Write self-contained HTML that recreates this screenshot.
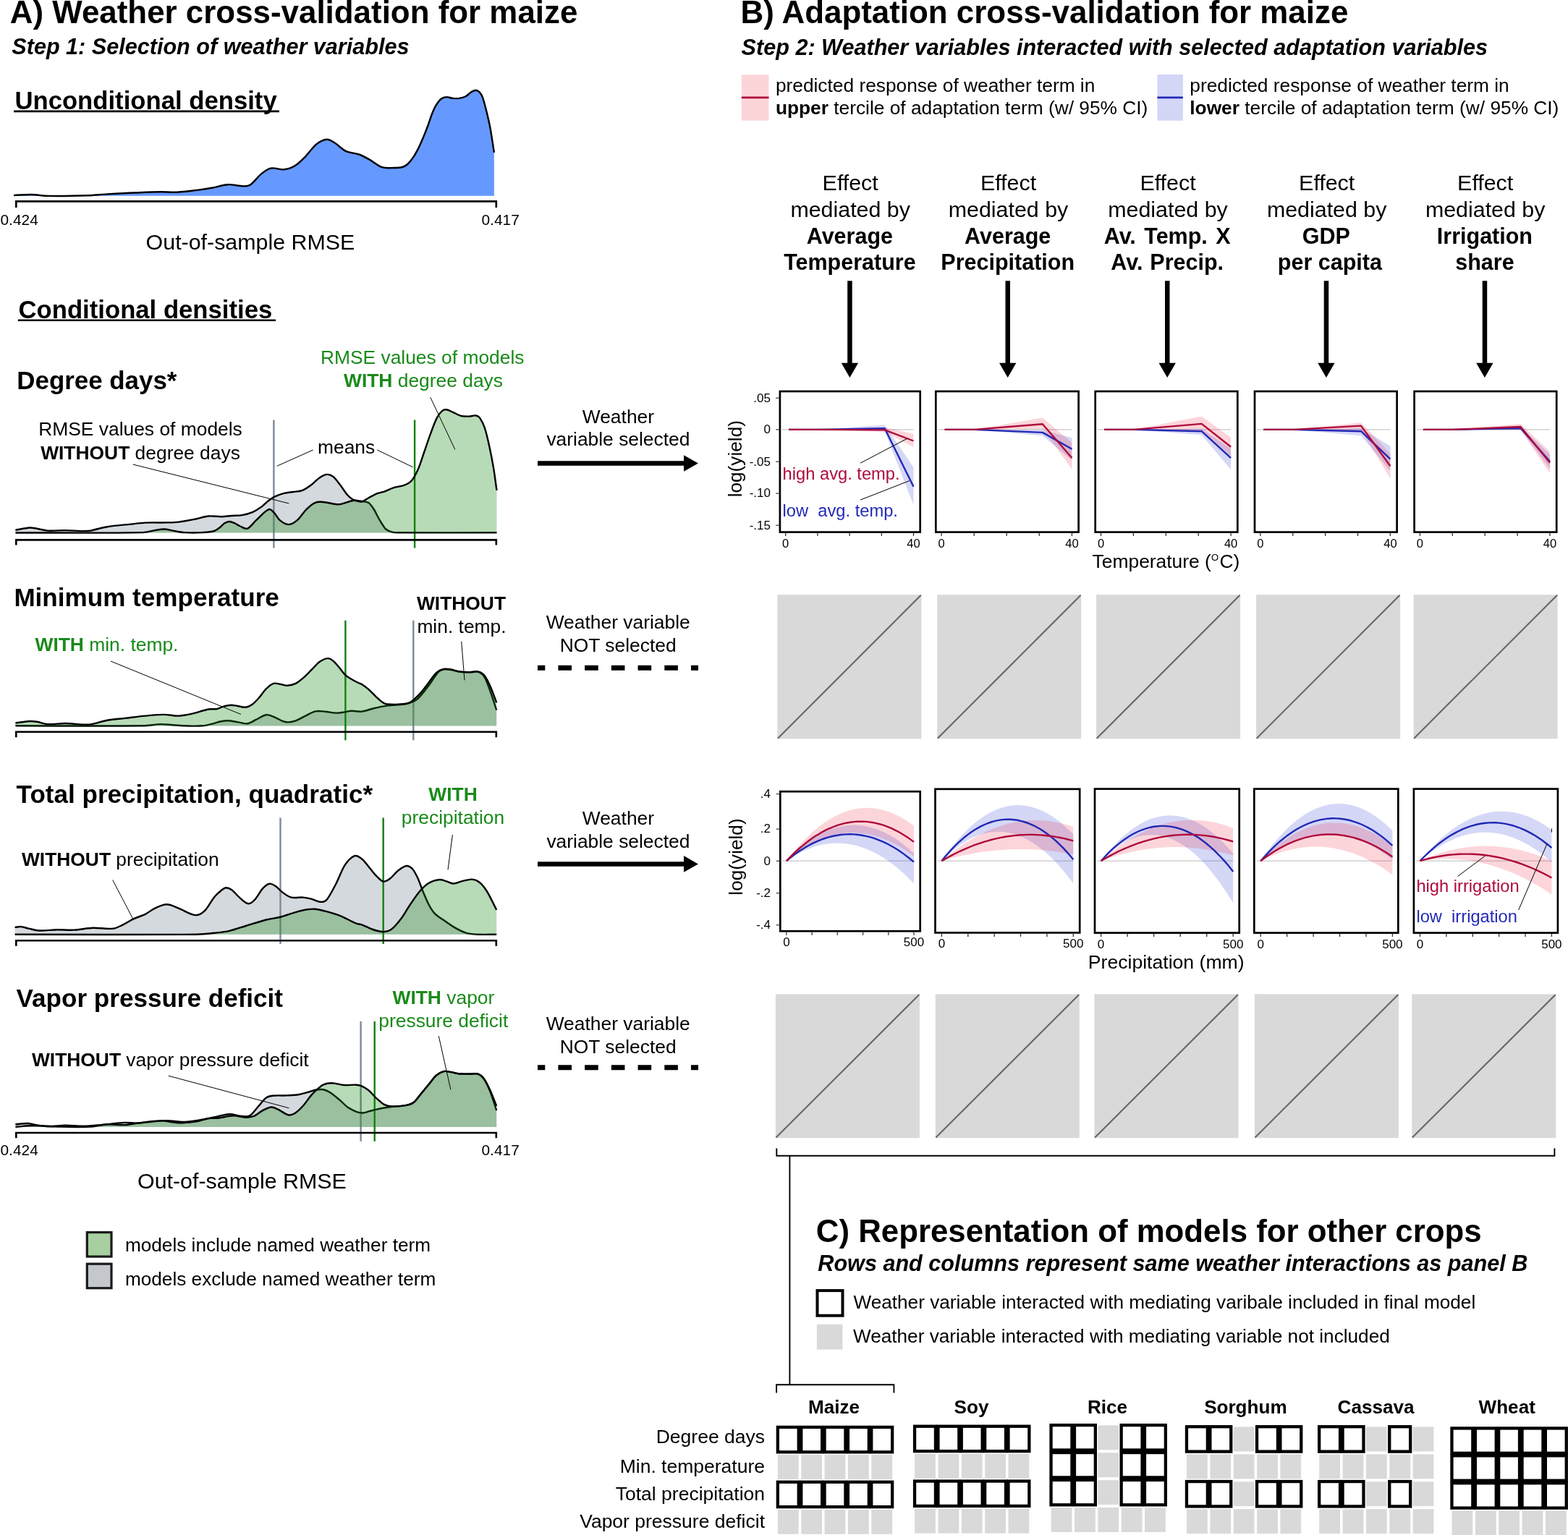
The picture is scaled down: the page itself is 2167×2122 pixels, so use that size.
<!DOCTYPE html>
<html><head><meta charset="utf-8"><title>Weather and adaptation cross-validation for maize</title>
<style>
html,body{margin:0;padding:0;background:#fff;}
svg{display:block;}
text{font-family:'Liberation Sans', Arial, Helvetica, sans-serif;}
</style></head>
<body>
<svg width="2167" height="2122" viewBox="0 0 2167 2122">
<defs></defs>
<rect x="0" y="0" width="2167" height="2122" fill="#fff"/>
<text x="13.8" y="32.2" font-size="43.9" font-weight="bold">A) Weather cross-validation for maize</text>
<text x="16.3" y="75.3" font-size="30.6" font-weight="bold" font-style="italic">Step 1: Selection of weather variables</text>
<text x="20.4" y="150.6" font-size="34.7" font-weight="bold">Unconditional density</text>
<line x1="19.1" y1="153.9" x2="385.9" y2="153.9" stroke="#000" stroke-width="2.6"/>
<path d="M19.1,270 C27.1,269.7 35.2,268.9 43.2,269 C51.4,269.2 59.7,270.8 67.9,270.9 C85.6,271.2 103.3,270.8 121,270.2 C130,269.9 139,268.9 148,268.4 C160.3,267.7 172.7,267 185,266.5 C197.4,266 209.8,265.4 222.2,265.2 C229.6,265.1 237,266.1 244.4,265.7 C254.3,265.2 264.2,263.8 274.1,262.6 C280.3,261.8 286.4,260.9 292.6,259.8 C300,258.5 307.4,255.6 314.8,255.2 C322.2,254.8 329.6,257.4 337,257.4 C340.1,257.4 343.2,257.4 346.3,255.2 C351.2,251.7 356.2,244.4 361.1,240.4 C365.4,236.9 369.8,233.4 374.1,232.6 C380.3,231.4 386.4,234.9 392.6,234.3 C397.5,233.8 402.5,232.3 407.4,229.3 C412.3,226.3 417.3,221.3 422.2,216.3 C427.1,211.3 432.1,203.5 437,199.6 C442,195.7 446.9,193.1 451.9,192.8 C455.6,192.5 459.3,195.5 463,197.8 C467.9,200.9 472.9,206.6 477.8,208.9 C484,211.8 490.1,211.3 496.3,213.5 C501.2,215.3 506.2,218.1 511.1,220.9 C516.7,224 522.2,229.2 527.8,231.1 C533.3,232.9 538.9,232 544.4,232 C548.3,232 552.2,232 556.1,231 C558.5,230.4 560.8,229.2 563.2,227 C565.9,224.5 568.6,221.1 571.3,217.1 C573.7,213.6 576,209.3 578.4,204.6 C580.8,199.8 583.1,194.3 585.5,188.6 C587.6,183.6 589.7,178.2 591.8,172.5 C593.6,167.7 595.3,161.7 597.1,157.3 C598.9,152.8 600.7,148.7 602.5,145.7 C604.9,141.8 607.2,138.7 609.6,136.8 C612,134.9 614.4,134.2 616.8,134.1 C619.8,133.9 622.7,135.6 625.7,135.9 C628.7,136.2 631.6,136.3 634.6,135.9 C637.6,135.4 640.6,134.8 643.6,133.2 C646.3,131.8 648.9,128.6 651.6,127 C653.7,125.8 655.8,124.7 657.9,124.7 C659.4,124.7 660.8,125.5 662.3,127 C663.8,128.6 665.3,130.1 666.8,134.1 C668.6,138.8 670.3,145.8 672.1,152.9 C673.9,160.1 675.7,167.3 677.5,177 C679.3,186.7 681.1,199.6 682.9,210.9 L682.9,270.8 L19.1,270.8 Z" fill="#6699ff"/>
<path d="M19.1,270 C27.1,269.7 35.2,268.9 43.2,269 C51.4,269.2 59.7,270.8 67.9,270.9 C85.6,271.2 103.3,270.8 121,270.2 C130,269.9 139,268.9 148,268.4 C160.3,267.7 172.7,267 185,266.5 C197.4,266 209.8,265.4 222.2,265.2 C229.6,265.1 237,266.1 244.4,265.7 C254.3,265.2 264.2,263.8 274.1,262.6 C280.3,261.8 286.4,260.9 292.6,259.8 C300,258.5 307.4,255.6 314.8,255.2 C322.2,254.8 329.6,257.4 337,257.4 C340.1,257.4 343.2,257.4 346.3,255.2 C351.2,251.7 356.2,244.4 361.1,240.4 C365.4,236.9 369.8,233.4 374.1,232.6 C380.3,231.4 386.4,234.9 392.6,234.3 C397.5,233.8 402.5,232.3 407.4,229.3 C412.3,226.3 417.3,221.3 422.2,216.3 C427.1,211.3 432.1,203.5 437,199.6 C442,195.7 446.9,193.1 451.9,192.8 C455.6,192.5 459.3,195.5 463,197.8 C467.9,200.9 472.9,206.6 477.8,208.9 C484,211.8 490.1,211.3 496.3,213.5 C501.2,215.3 506.2,218.1 511.1,220.9 C516.7,224 522.2,229.2 527.8,231.1 C533.3,232.9 538.9,232 544.4,232 C548.3,232 552.2,232 556.1,231 C558.5,230.4 560.8,229.2 563.2,227 C565.9,224.5 568.6,221.1 571.3,217.1 C573.7,213.6 576,209.3 578.4,204.6 C580.8,199.8 583.1,194.3 585.5,188.6 C587.6,183.6 589.7,178.2 591.8,172.5 C593.6,167.7 595.3,161.7 597.1,157.3 C598.9,152.8 600.7,148.7 602.5,145.7 C604.9,141.8 607.2,138.7 609.6,136.8 C612,134.9 614.4,134.2 616.8,134.1 C619.8,133.9 622.7,135.6 625.7,135.9 C628.7,136.2 631.6,136.3 634.6,135.9 C637.6,135.4 640.6,134.8 643.6,133.2 C646.3,131.8 648.9,128.6 651.6,127 C653.7,125.8 655.8,124.7 657.9,124.7 C659.4,124.7 660.8,125.5 662.3,127 C663.8,128.6 665.3,130.1 666.8,134.1 C668.6,138.8 670.3,145.8 672.1,152.9 C673.9,160.1 675.7,167.3 677.5,177 C679.3,186.7 681.1,199.6 682.9,210.9" fill="none" stroke="#000" stroke-width="2.4"/>
<path d="M22.3,287 L22.3,278.4 L685.8,278.4 L685.8,287" fill="none" stroke="#000" stroke-width="2.6"/>
<text x="0.5" y="310.5" font-size="20.9">0.424</text>
<text x="665.5" y="310.5" font-size="20.9">0.417</text>
<text x="201.6" y="344.6" font-size="30.4">Out-of-sample RMSE</text>
<text x="25.5" y="439.5" font-size="34.7" font-weight="bold">Conditional densities</text>
<line x1="24.8" y1="442.8" x2="381" y2="442.8" stroke="#000" stroke-width="2.6"/>
<text x="23.3" y="537.8" font-size="34.9" font-weight="bold">Degree days*</text>
<text x="583.7" y="503.4" font-size="26.4" text-anchor="middle" fill="#1a8a1a">RMSE values of models</text>
<text x="585" y="535.3" font-size="26.4" text-anchor="middle" fill="#1a8a1a"><tspan font-weight="bold">WITH</tspan> degree days</text>
<text x="194" y="602.2" font-size="26.4" text-anchor="middle">RMSE values of models</text>
<text x="194" y="634.8" font-size="26.4" text-anchor="middle"><tspan font-weight="bold">WITHOUT</tspan> degree days</text>
<text x="439" y="627.2" font-size="26.4">means</text>
<path d="M21.4,732.8 C28,731.7 34.6,729.9 41.2,729.5 C44.5,729.3 47.7,730.3 51,730.8 C55.9,731.6 60.9,733.3 65.8,733.6 C74,734.1 82.3,733 90.5,733.1 C98.7,733.2 107,734 115.2,734.1 C118.5,734.1 121.8,734.2 125.1,733.6 C132.8,732.2 140.4,729.4 148.1,728.2 C159.1,726.4 170.1,725.8 181.1,724.6 C187.7,723.9 194.2,722.9 200.8,722.6 C210.7,722.2 220.6,722.6 230.5,722.4 C236,722.3 241.4,722.3 246.9,721.6 C255.1,720.6 263.4,718.8 271.6,717.2 C277.1,716.1 282.6,714 288.1,713.5 C294.1,713 300.2,714.3 306.2,714.2 C310.8,714.1 315.4,713.3 320,713 C324.9,712.6 329.7,713 334.6,712.1 C339.5,711.2 344.5,709.9 349.4,707.8 C353.5,706 357.6,703.4 361.7,700.4 C365,698 368.3,694.3 371.6,691.7 C374.1,689.8 376.5,688 379,686.8 C383.5,684.7 388.1,683.1 392.6,681.9 C396.7,680.8 400.8,680.6 404.9,680 C409,679.4 413.2,679.7 417.3,678.1 C421.4,676.6 425.5,673.7 429.6,670.7 C433.7,667.7 437.9,662.9 442,660.2 C445.3,658 448.6,656.1 451.9,655.9 C454.8,655.7 457.6,656.7 460.5,659 C463.8,661.6 467.1,666.5 470.4,670.7 C473.7,674.9 476.9,680.6 480.2,684.3 C482.7,687.2 485.2,689.2 487.7,690.5 C490.2,691.8 492.6,691.8 495.1,692.3 C497.1,692.7 499.2,692.6 501.2,693 C504.1,693.6 507,693.2 509.9,695.4 C512.4,697.2 514.8,701.2 517.3,705 C518.9,707.4 520.4,711.2 522,714 C523.7,717.2 525.5,720.3 527.2,723 C529.2,726.1 531.2,729.8 533.2,731.5 C536.2,734 539.1,734.9 542.1,735.6 C545.8,736.5 549.4,736.3 553.1,736.3 C597.6,736.5 642,736.3 686.5,736.3 L686.5,736.4 L21.4,736.4 Z" fill="#708090" fill-opacity="0.3"/>
<line x1="378.4" y1="580.5" x2="378.4" y2="757.5" stroke="#7d8a99" stroke-width="2.4"/>
<line x1="573.1" y1="580.5" x2="573.1" y2="757.5" stroke="#0f800f" stroke-width="2.4"/>
<path d="M21.4,732.8 C28,731.7 34.6,729.9 41.2,729.5 C44.5,729.3 47.7,730.3 51,730.8 C55.9,731.6 60.9,733.3 65.8,733.6 C74,734.1 82.3,733 90.5,733.1 C98.7,733.2 107,734 115.2,734.1 C118.5,734.1 121.8,734.2 125.1,733.6 C132.8,732.2 140.4,729.4 148.1,728.2 C159.1,726.4 170.1,725.8 181.1,724.6 C187.7,723.9 194.2,722.9 200.8,722.6 C210.7,722.2 220.6,722.6 230.5,722.4 C236,722.3 241.4,722.3 246.9,721.6 C255.1,720.6 263.4,718.8 271.6,717.2 C277.1,716.1 282.6,714 288.1,713.5 C294.1,713 300.2,714.3 306.2,714.2 C310.8,714.1 315.4,713.3 320,713 C324.9,712.6 329.7,713 334.6,712.1 C339.5,711.2 344.5,709.9 349.4,707.8 C353.5,706 357.6,703.4 361.7,700.4 C365,698 368.3,694.3 371.6,691.7 C374.1,689.8 376.5,688 379,686.8 C383.5,684.7 388.1,683.1 392.6,681.9 C396.7,680.8 400.8,680.6 404.9,680 C409,679.4 413.2,679.7 417.3,678.1 C421.4,676.6 425.5,673.7 429.6,670.7 C433.7,667.7 437.9,662.9 442,660.2 C445.3,658 448.6,656.1 451.9,655.9 C454.8,655.7 457.6,656.7 460.5,659 C463.8,661.6 467.1,666.5 470.4,670.7 C473.7,674.9 476.9,680.6 480.2,684.3 C482.7,687.2 485.2,689.2 487.7,690.5 C490.2,691.8 492.6,691.8 495.1,692.3 C497.1,692.7 499.2,692.6 501.2,693 C504.1,693.6 507,693.2 509.9,695.4 C512.4,697.2 514.8,701.2 517.3,705 C518.9,707.4 520.4,711.2 522,714 C523.7,717.2 525.5,720.3 527.2,723 C529.2,726.1 531.2,729.8 533.2,731.5 C536.2,734 539.1,734.9 542.1,735.6 C545.8,736.5 549.4,736.3 553.1,736.3 C597.6,736.5 642,736.3 686.5,736.3" fill="none" stroke="#000" stroke-width="2.4"/>
<path d="M21.4,736.5 C80.1,736.4 138.8,737.1 197.5,736.1 C203,736 208.5,734 214,733.1 C218.4,732.4 222.8,731.4 227.2,731.5 C231,731.6 234.9,733 238.7,733.6 C244.2,734.5 249.6,735.8 255.1,736.1 C263.3,736.6 271.6,736.5 279.8,736.1 C285.2,735.8 290.6,735.6 296,734 C298.7,733.2 301.3,731 304,729 C306,727.5 308,724.7 310,723.5 C312.3,722.1 314.7,721 317,721 C319.7,721 322.3,722.4 325,723.5 C327,724.4 329,726.2 331,727 C334.7,728.5 338.3,731.9 342,730.6 C346.1,729.2 350.2,722.6 354.3,718.9 C360.1,713.7 365.8,706.4 371.6,704.1 C374.1,703.1 376.5,706.5 379,709 C381.5,711.5 383.9,716.9 386.4,718.9 C390.5,722.3 394.7,725.1 398.8,725.1 C402.9,725.1 407,722.4 411.1,718.9 C415.2,715.4 419.4,708.1 423.5,704.1 C427.6,700.1 431.7,696.4 435.8,694.8 C439.9,693.1 444,693.9 448.1,694.2 C454.7,694.7 461.3,697.3 467.9,697.3 C472,697.3 476.1,695.3 480.2,694.2 C483.1,693.4 486,691.8 488.9,691.7 C492.6,691.6 496.3,694.3 500,693.6 C503.3,693 506.6,689.7 509.9,688 C514,685.8 518.1,683.5 522.2,681.9 C525.1,680.7 528.1,680.6 531,679.6 C535.4,678 539.9,675.5 544.3,674.1 C548.7,672.7 553.1,672.5 557.5,671.1 C560.4,670.1 563.4,669.1 566.3,666.9 C568.1,665.5 570,663.3 571.8,660.3 C574,656.7 576.3,652.6 578.5,647.1 C581.1,640.8 583.6,632.4 586.2,625 C589.1,616.6 592.1,607.5 595,599.6 C597.9,591.7 600.9,583.3 603.8,577.6 C606.4,572.6 608.9,569.8 611.5,567.6 C613.4,566 615.2,566 617.1,566.3 C620,566.8 623,568.6 625.9,569.9 C629.6,571.5 633.2,573.8 636.9,574.8 C640.6,575.8 644.2,575.7 647.9,575.6 C651.2,575.6 654.6,574 657.9,574.5 C659.7,574.8 661.6,575.5 663.4,578.1 C665.6,581.3 667.8,585.2 670,591.9 C672.2,598.6 674.4,608.4 676.6,618.4 C678.4,626.8 680.3,636.1 682.1,647.1 C683.6,655.9 685,667.6 686.5,677.9 L686.5,736.4 L21.4,736.4 Z" fill="#148711" fill-opacity="0.3"/>
<path d="M21.4,736.5 C80.1,736.4 138.8,737.1 197.5,736.1 C203,736 208.5,734 214,733.1 C218.4,732.4 222.8,731.4 227.2,731.5 C231,731.6 234.9,733 238.7,733.6 C244.2,734.5 249.6,735.8 255.1,736.1 C263.3,736.6 271.6,736.5 279.8,736.1 C285.2,735.8 290.6,735.6 296,734 C298.7,733.2 301.3,731 304,729 C306,727.5 308,724.7 310,723.5 C312.3,722.1 314.7,721 317,721 C319.7,721 322.3,722.4 325,723.5 C327,724.4 329,726.2 331,727 C334.7,728.5 338.3,731.9 342,730.6 C346.1,729.2 350.2,722.6 354.3,718.9 C360.1,713.7 365.8,706.4 371.6,704.1 C374.1,703.1 376.5,706.5 379,709 C381.5,711.5 383.9,716.9 386.4,718.9 C390.5,722.3 394.7,725.1 398.8,725.1 C402.9,725.1 407,722.4 411.1,718.9 C415.2,715.4 419.4,708.1 423.5,704.1 C427.6,700.1 431.7,696.4 435.8,694.8 C439.9,693.1 444,693.9 448.1,694.2 C454.7,694.7 461.3,697.3 467.9,697.3 C472,697.3 476.1,695.3 480.2,694.2 C483.1,693.4 486,691.8 488.9,691.7 C492.6,691.6 496.3,694.3 500,693.6 C503.3,693 506.6,689.7 509.9,688 C514,685.8 518.1,683.5 522.2,681.9 C525.1,680.7 528.1,680.6 531,679.6 C535.4,678 539.9,675.5 544.3,674.1 C548.7,672.7 553.1,672.5 557.5,671.1 C560.4,670.1 563.4,669.1 566.3,666.9 C568.1,665.5 570,663.3 571.8,660.3 C574,656.7 576.3,652.6 578.5,647.1 C581.1,640.8 583.6,632.4 586.2,625 C589.1,616.6 592.1,607.5 595,599.6 C597.9,591.7 600.9,583.3 603.8,577.6 C606.4,572.6 608.9,569.8 611.5,567.6 C613.4,566 615.2,566 617.1,566.3 C620,566.8 623,568.6 625.9,569.9 C629.6,571.5 633.2,573.8 636.9,574.8 C640.6,575.8 644.2,575.7 647.9,575.6 C651.2,575.6 654.6,574 657.9,574.5 C659.7,574.8 661.6,575.5 663.4,578.1 C665.6,581.3 667.8,585.2 670,591.9 C672.2,598.6 674.4,608.4 676.6,618.4 C678.4,626.8 680.3,636.1 682.1,647.1 C683.6,655.9 685,667.6 686.5,677.9" fill="none" stroke="#000" stroke-width="2.4"/>
<path d="M22.3,753.5 L22.3,746.4 L685.8,746.4 L685.8,753.5" fill="none" stroke="#000" stroke-width="2.6"/>
<line x1="183.8" y1="642" x2="399.4" y2="696" stroke="#000" stroke-width="1"/>
<line x1="382.8" y1="644.3" x2="432.6" y2="622" stroke="#000" stroke-width="1"/>
<line x1="521.3" y1="622" x2="570.6" y2="645.8" stroke="#000" stroke-width="1"/>
<line x1="594.8" y1="549.3" x2="628.8" y2="621.3" stroke="#000" stroke-width="1"/>
<text x="19.4" y="838" font-size="35.1" font-weight="bold">Minimum temperature</text>
<text x="637.5" y="842.8" font-size="26.4" font-weight="bold" text-anchor="middle">WITHOUT</text>
<text x="638" y="874.8" font-size="26.4" text-anchor="middle">min. temp.</text>
<text x="48.5" y="900.3" font-size="26.4" fill="#1a8a1a"><tspan font-weight="bold">WITH</tspan> min. temp.</text>
<path d="M21.4,1003.3 C80.1,1003.3 138.8,1003.9 197.5,1003.3 C205.7,1003.2 214,1001.3 222.2,1001.1 C227.7,1001 233.2,1001.9 238.7,1002.3 C244.2,1002.7 249.6,1003.2 255.1,1003.3 C263.3,1003.5 271.6,1004 279.8,1003.3 C285.3,1002.8 290.8,1001.1 296.3,999.8 C298.9,999.2 301.4,998 304,997.5 C307.6,996.8 311.1,996.1 314.7,996.2 C319.2,996.3 323.8,997.4 328.3,998.1 C332.8,998.8 337.4,1000.8 341.9,1000.3 C345.7,999.9 349.4,997 353.2,995.2 C358.1,992.9 363,988.9 367.9,988.2 C371.7,987.6 375.4,989.8 379.2,991.3 C383,992.8 386.7,995.5 390.5,996.9 C393.2,997.9 395.8,998.5 398.5,998.4 C401.9,998.3 405.2,997.7 408.6,996.4 C413.1,994.7 417.7,991.8 422.2,989.6 C426.7,987.4 431.3,984.4 435.8,983.4 C440.3,982.4 444.9,983.3 449.4,983.7 C454.3,984.1 459.2,985.4 464.1,985.6 C467.5,985.8 470.9,985.2 474.3,984.8 C478.1,984.3 481.8,983 485.6,982.8 C490.4,982.6 495.2,984.1 500,983.6 C505.1,983 510.3,980.7 515.4,979.5 C522.3,977.9 529.1,976.4 536,975.4 C542.9,974.4 549.7,974.6 556.6,973.8 C559.7,973.4 562.7,972.9 565.8,971.8 C569.6,970.4 573.4,969.5 577.2,966.1 C582.3,961.5 587.5,954.1 592.6,947.6 C597.7,941.1 602.9,930.6 608,927 C613.2,923.4 618.3,925.7 623.5,926 C626.9,926.2 630.3,928 633.7,928.5 C638.9,929.2 644,929.4 649.2,929.5 C653.3,929.6 657.4,927.7 661.5,929.1 C664.3,930 667,931.6 669.8,936.3 C672.5,940.9 675.3,949.3 678,956.9 C680.7,964.5 683.5,973.4 686.2,981.6 L686.2,1003.4 L21.4,1003.4 Z" fill="#708090" fill-opacity="0.3"/>
<line x1="477.4" y1="857.8" x2="477.4" y2="1023.3" stroke="#0f800f" stroke-width="2.4"/>
<line x1="571.3" y1="857.8" x2="571.3" y2="1023.3" stroke="#7d8a99" stroke-width="2.4"/>
<path d="M21.4,1003.3 C80.1,1003.3 138.8,1003.9 197.5,1003.3 C205.7,1003.2 214,1001.3 222.2,1001.1 C227.7,1001 233.2,1001.9 238.7,1002.3 C244.2,1002.7 249.6,1003.2 255.1,1003.3 C263.3,1003.5 271.6,1004 279.8,1003.3 C285.3,1002.8 290.8,1001.1 296.3,999.8 C298.9,999.2 301.4,998 304,997.5 C307.6,996.8 311.1,996.1 314.7,996.2 C319.2,996.3 323.8,997.4 328.3,998.1 C332.8,998.8 337.4,1000.8 341.9,1000.3 C345.7,999.9 349.4,997 353.2,995.2 C358.1,992.9 363,988.9 367.9,988.2 C371.7,987.6 375.4,989.8 379.2,991.3 C383,992.8 386.7,995.5 390.5,996.9 C393.2,997.9 395.8,998.5 398.5,998.4 C401.9,998.3 405.2,997.7 408.6,996.4 C413.1,994.7 417.7,991.8 422.2,989.6 C426.7,987.4 431.3,984.4 435.8,983.4 C440.3,982.4 444.9,983.3 449.4,983.7 C454.3,984.1 459.2,985.4 464.1,985.6 C467.5,985.8 470.9,985.2 474.3,984.8 C478.1,984.3 481.8,983 485.6,982.8 C490.4,982.6 495.2,984.1 500,983.6 C505.1,983 510.3,980.7 515.4,979.5 C522.3,977.9 529.1,976.4 536,975.4 C542.9,974.4 549.7,974.6 556.6,973.8 C559.7,973.4 562.7,972.9 565.8,971.8 C569.6,970.4 573.4,969.5 577.2,966.1 C582.3,961.5 587.5,954.1 592.6,947.6 C597.7,941.1 602.9,930.6 608,927 C613.2,923.4 618.3,925.7 623.5,926 C626.9,926.2 630.3,928 633.7,928.5 C638.9,929.2 644,929.4 649.2,929.5 C653.3,929.6 657.4,927.7 661.5,929.1 C664.3,930 667,931.6 669.8,936.3 C672.5,940.9 675.3,949.3 678,956.9 C680.7,964.5 683.5,973.4 686.2,981.6" fill="none" stroke="#000" stroke-width="2.4"/>
<path d="M21.4,999.5 C28,998.7 34.6,997.4 41.2,997 C44.5,996.8 47.7,997.3 51,997.8 C55.9,998.6 60.9,1000.8 65.8,1001.1 C74,1001.6 82.3,999.9 90.5,1000 C98.7,1000.1 107,1001.3 115.2,1001.6 C119,1001.7 122.9,1001.8 126.7,1001.1 C133.8,999.8 141,997.1 148.1,995.8 C156.3,994.3 164.6,993.9 172.8,992.9 C182.1,991.8 191.5,990.5 200.8,989.6 C209.6,988.8 218.4,987.9 227.2,987.9 C233.8,987.9 240.3,989.9 246.9,989.6 C253.5,989.3 260.1,987.8 266.7,986.3 C273.8,984.7 281,981.8 288.1,980.5 C292.1,979.7 296,980.7 300,980 C303,979.4 306.1,977.4 309.1,976.6 C312.5,975.7 315.8,974.8 319.2,974.7 C322.2,974.6 325.3,975.6 328.3,976 C332.1,976.6 335.8,978.1 339.6,977.7 C342.6,977.4 345.7,975.9 348.7,973.7 C352.1,971.2 355.4,967.4 358.8,963.6 C361.8,960.2 364.9,955.1 367.9,952.2 C371.3,948.9 374.7,945.9 378.1,944.9 C381.5,943.9 384.9,945.5 388.3,946 C391.3,946.4 394.3,947.9 397.3,947.7 C401.1,947.5 404.8,946.8 408.6,944.9 C412.4,943 416.2,939.7 420,936.4 C423.8,933.1 427.5,928.9 431.3,925.1 C434.7,921.7 438.1,917.3 441.5,914.9 C445.3,912.3 449,910.3 452.8,910.1 C455.4,909.9 458.1,911.6 460.7,913.8 C463.7,916.3 466.8,920.4 469.8,924 C472,926.6 474.3,930.2 476.5,932.4 C478.8,934.7 481,936.1 483.3,937.5 C487.1,939.9 490.9,941.8 494.7,943.8 C496.5,944.7 498.2,945 500,946.1 C503.4,948.3 506.9,950.8 510.3,953.8 C513.7,956.8 517.2,961 520.6,964.1 C524,967.2 527.5,970.7 530.9,972.3 C534.3,973.9 537.8,973.7 541.2,973.8 C546.3,974 551.5,973.8 556.6,973.3 C559.7,973 562.7,972.5 565.8,971.3 C567.9,970.5 569.9,969 572,967.2 C575.4,964.2 578.9,960.8 582.3,956.9 C585.7,952.9 589.2,948 592.6,943.5 C596,939 599.5,933.2 602.9,930.1 C606.3,927 609.8,925.8 613.2,925 C616.6,924.2 620.1,925 623.5,925.5 C626.9,926 630.3,927.6 633.7,928.1 C638.9,928.8 644,929 649.2,929.1 C653.3,929.2 657.4,927.6 661.5,928.6 C664.3,929.3 667,930.7 669.8,934.2 C672.5,937.7 675.3,943.5 678,949.7 C680.7,955.9 683.5,964.1 686.2,971.3 L686.2,1003.4 L21.4,1003.4 Z" fill="#148711" fill-opacity="0.3"/>
<path d="M21.4,999.5 C28,998.7 34.6,997.4 41.2,997 C44.5,996.8 47.7,997.3 51,997.8 C55.9,998.6 60.9,1000.8 65.8,1001.1 C74,1001.6 82.3,999.9 90.5,1000 C98.7,1000.1 107,1001.3 115.2,1001.6 C119,1001.7 122.9,1001.8 126.7,1001.1 C133.8,999.8 141,997.1 148.1,995.8 C156.3,994.3 164.6,993.9 172.8,992.9 C182.1,991.8 191.5,990.5 200.8,989.6 C209.6,988.8 218.4,987.9 227.2,987.9 C233.8,987.9 240.3,989.9 246.9,989.6 C253.5,989.3 260.1,987.8 266.7,986.3 C273.8,984.7 281,981.8 288.1,980.5 C292.1,979.7 296,980.7 300,980 C303,979.4 306.1,977.4 309.1,976.6 C312.5,975.7 315.8,974.8 319.2,974.7 C322.2,974.6 325.3,975.6 328.3,976 C332.1,976.6 335.8,978.1 339.6,977.7 C342.6,977.4 345.7,975.9 348.7,973.7 C352.1,971.2 355.4,967.4 358.8,963.6 C361.8,960.2 364.9,955.1 367.9,952.2 C371.3,948.9 374.7,945.9 378.1,944.9 C381.5,943.9 384.9,945.5 388.3,946 C391.3,946.4 394.3,947.9 397.3,947.7 C401.1,947.5 404.8,946.8 408.6,944.9 C412.4,943 416.2,939.7 420,936.4 C423.8,933.1 427.5,928.9 431.3,925.1 C434.7,921.7 438.1,917.3 441.5,914.9 C445.3,912.3 449,910.3 452.8,910.1 C455.4,909.9 458.1,911.6 460.7,913.8 C463.7,916.3 466.8,920.4 469.8,924 C472,926.6 474.3,930.2 476.5,932.4 C478.8,934.7 481,936.1 483.3,937.5 C487.1,939.9 490.9,941.8 494.7,943.8 C496.5,944.7 498.2,945 500,946.1 C503.4,948.3 506.9,950.8 510.3,953.8 C513.7,956.8 517.2,961 520.6,964.1 C524,967.2 527.5,970.7 530.9,972.3 C534.3,973.9 537.8,973.7 541.2,973.8 C546.3,974 551.5,973.8 556.6,973.3 C559.7,973 562.7,972.5 565.8,971.3 C567.9,970.5 569.9,969 572,967.2 C575.4,964.2 578.9,960.8 582.3,956.9 C585.7,952.9 589.2,948 592.6,943.5 C596,939 599.5,933.2 602.9,930.1 C606.3,927 609.8,925.8 613.2,925 C616.6,924.2 620.1,925 623.5,925.5 C626.9,926 630.3,927.6 633.7,928.1 C638.9,928.8 644,929 649.2,929.1 C653.3,929.2 657.4,927.6 661.5,928.6 C664.3,929.3 667,930.7 669.8,934.2 C672.5,937.7 675.3,943.5 678,949.7 C680.7,955.9 683.5,964.1 686.2,971.3" fill="none" stroke="#000" stroke-width="2.4"/>
<path d="M22.3,1019.2 L22.3,1011.7 L685.8,1011.7 L685.8,1019.2" fill="none" stroke="#000" stroke-width="2.6"/>
<line x1="153" y1="914" x2="333" y2="987.5" stroke="#000" stroke-width="1"/>
<line x1="637.7" y1="886.7" x2="642" y2="940.3" stroke="#000" stroke-width="1"/>
<text x="22.6" y="1109.5" font-size="35.1" font-weight="bold">Total precipitation, quadratic*</text>
<text x="29.9" y="1197.3" font-size="26.4"><tspan font-weight="bold">WITHOUT</tspan> precipitation</text>
<text x="626" y="1106.7" font-size="26.4" font-weight="bold" text-anchor="middle" fill="#1a8a1a">WITH</text>
<text x="626" y="1138.6" font-size="26.4" text-anchor="middle" fill="#1a8a1a">precipitation</text>
<path d="M20.6,1281.9 C23.6,1281.6 26.6,1280.8 29.6,1281.1 C32.9,1281.4 36.2,1282.9 39.5,1283.6 C44.4,1284.7 49.4,1286.3 54.3,1286.5 C62.5,1286.8 70.8,1285.4 79,1285.2 C86.7,1285.1 94.4,1286 102.1,1285.6 C110.9,1285.2 119.6,1283.1 128.4,1282.8 C137.7,1282.5 147.1,1284.6 156.4,1283.6 C160.8,1283.2 165.1,1280.7 169.5,1278.6 C174.5,1276.3 179.4,1272.7 184.4,1270.4 C189.9,1267.8 195.3,1266.5 200.8,1263.8 C205.2,1261.6 209.6,1257.6 214,1255.6 C219.5,1253.1 225,1250.3 230.5,1250.3 C236,1250.3 241.4,1253.6 246.9,1255.6 C254.6,1258.5 262.3,1264.4 270,1265.1 C274.4,1265.5 278.7,1263.1 283.1,1258.9 C287.5,1254.7 291.9,1245.4 296.3,1240 C299.4,1236.1 302.6,1233.5 305.7,1231 C307.9,1229.2 310.2,1227.4 312.4,1227.3 C315.1,1227.2 317.7,1228.3 320.4,1230.2 C323.8,1232.6 327.2,1237.5 330.6,1240.4 C334.7,1243.9 338.9,1248.6 343,1249.2 C346,1249.7 349.1,1246.9 352.1,1243.7 C355.9,1239.8 359.6,1232 363.4,1227.9 C366.4,1224.6 369.4,1222.1 372.4,1221.7 C375.4,1221.3 378.5,1223.6 381.5,1225.6 C384.5,1227.6 387.5,1231.4 390.5,1233.6 C394.3,1236.4 398.1,1239.5 401.9,1240.4 C407.5,1241.8 413.2,1240.2 418.8,1240.6 C422.6,1240.9 426.3,1241.6 430.1,1242.6 C434.6,1243.7 439.2,1246.7 443.7,1246.9 C446.3,1247 449,1246.9 451.6,1243.7 C455.8,1238.7 459.9,1230.1 464.1,1222.2 C468.2,1214.3 472.4,1202.4 476.5,1196.2 C481,1189.4 485.6,1184.9 490.1,1183.2 C493.4,1182 496.7,1184.7 500,1187.3 C503.4,1190 506.9,1195.1 510.3,1199.1 C513.7,1203.1 517.2,1208 520.6,1211.4 C523.7,1214.5 526.7,1218.1 529.8,1218.6 C532.9,1219.1 536,1216.8 539.1,1214.5 C542.5,1212 546,1206.9 549.4,1204.2 C553.5,1201 557.6,1197.6 561.7,1197 C564.5,1196.6 567.2,1198.3 570,1201.2 C572.4,1203.8 574.8,1208.4 577.2,1213.5 C579.6,1218.6 582,1226.2 584.4,1232 C587.1,1238.6 589.9,1245.3 592.6,1250.5 C595.3,1255.7 598.1,1260 600.8,1262.9 C604.9,1267.2 609.1,1269.2 613.2,1272.1 C618.3,1275.7 623.5,1279.5 628.6,1282.4 C633.7,1285.3 638.9,1288.1 644,1289.6 C649.2,1291.2 654.3,1291.4 659.5,1291.7 C668.4,1292.1 677.3,1291.7 686.2,1291.7 L686.2,1291.8 L20.6,1291.8 Z" fill="#708090" fill-opacity="0.3"/>
<line x1="387.5" y1="1130.5" x2="387.5" y2="1305" stroke="#7d8a99" stroke-width="2.4"/>
<line x1="529.7" y1="1130.5" x2="529.7" y2="1305" stroke="#0f800f" stroke-width="2.4"/>
<path d="M20.6,1281.9 C23.6,1281.6 26.6,1280.8 29.6,1281.1 C32.9,1281.4 36.2,1282.9 39.5,1283.6 C44.4,1284.7 49.4,1286.3 54.3,1286.5 C62.5,1286.8 70.8,1285.4 79,1285.2 C86.7,1285.1 94.4,1286 102.1,1285.6 C110.9,1285.2 119.6,1283.1 128.4,1282.8 C137.7,1282.5 147.1,1284.6 156.4,1283.6 C160.8,1283.2 165.1,1280.7 169.5,1278.6 C174.5,1276.3 179.4,1272.7 184.4,1270.4 C189.9,1267.8 195.3,1266.5 200.8,1263.8 C205.2,1261.6 209.6,1257.6 214,1255.6 C219.5,1253.1 225,1250.3 230.5,1250.3 C236,1250.3 241.4,1253.6 246.9,1255.6 C254.6,1258.5 262.3,1264.4 270,1265.1 C274.4,1265.5 278.7,1263.1 283.1,1258.9 C287.5,1254.7 291.9,1245.4 296.3,1240 C299.4,1236.1 302.6,1233.5 305.7,1231 C307.9,1229.2 310.2,1227.4 312.4,1227.3 C315.1,1227.2 317.7,1228.3 320.4,1230.2 C323.8,1232.6 327.2,1237.5 330.6,1240.4 C334.7,1243.9 338.9,1248.6 343,1249.2 C346,1249.7 349.1,1246.9 352.1,1243.7 C355.9,1239.8 359.6,1232 363.4,1227.9 C366.4,1224.6 369.4,1222.1 372.4,1221.7 C375.4,1221.3 378.5,1223.6 381.5,1225.6 C384.5,1227.6 387.5,1231.4 390.5,1233.6 C394.3,1236.4 398.1,1239.5 401.9,1240.4 C407.5,1241.8 413.2,1240.2 418.8,1240.6 C422.6,1240.9 426.3,1241.6 430.1,1242.6 C434.6,1243.7 439.2,1246.7 443.7,1246.9 C446.3,1247 449,1246.9 451.6,1243.7 C455.8,1238.7 459.9,1230.1 464.1,1222.2 C468.2,1214.3 472.4,1202.4 476.5,1196.2 C481,1189.4 485.6,1184.9 490.1,1183.2 C493.4,1182 496.7,1184.7 500,1187.3 C503.4,1190 506.9,1195.1 510.3,1199.1 C513.7,1203.1 517.2,1208 520.6,1211.4 C523.7,1214.5 526.7,1218.1 529.8,1218.6 C532.9,1219.1 536,1216.8 539.1,1214.5 C542.5,1212 546,1206.9 549.4,1204.2 C553.5,1201 557.6,1197.6 561.7,1197 C564.5,1196.6 567.2,1198.3 570,1201.2 C572.4,1203.8 574.8,1208.4 577.2,1213.5 C579.6,1218.6 582,1226.2 584.4,1232 C587.1,1238.6 589.9,1245.3 592.6,1250.5 C595.3,1255.7 598.1,1260 600.8,1262.9 C604.9,1267.2 609.1,1269.2 613.2,1272.1 C618.3,1275.7 623.5,1279.5 628.6,1282.4 C633.7,1285.3 638.9,1288.1 644,1289.6 C649.2,1291.2 654.3,1291.4 659.5,1291.7 C668.4,1292.1 677.3,1291.7 686.2,1291.7" fill="none" stroke="#000" stroke-width="2.4"/>
<path d="M20.6,1291.8 C104.3,1291.8 187.9,1292.4 271.6,1291.8 C279.8,1291.7 288.1,1290.7 296.3,1289.8 C303.2,1289 310.1,1288.4 317,1286.8 C324.5,1285.1 332.1,1282.3 339.6,1280 C349,1277.2 358.5,1273.9 367.9,1271.5 C374.7,1269.8 381.5,1269.3 388.3,1267.5 C394.7,1265.9 401.1,1263.1 407.5,1261.3 C413.2,1259.7 418.8,1258.2 424.5,1257.3 C428.3,1256.7 432,1256.5 435.8,1256.8 C439.6,1257.1 443.3,1258 447.1,1259 C454.7,1261 462.2,1262.9 469.8,1265.8 C477.3,1268.7 484.9,1273.5 492.4,1276.6 C494.9,1277.6 497.5,1277.4 500,1278.3 C505.1,1280.2 510.3,1283.3 515.4,1285 C520.2,1286.6 525,1288.2 529.8,1288.1 C533.6,1288 537.4,1287.2 541.2,1284.5 C545.3,1281.6 549.4,1276.5 553.5,1271.1 C558,1265.2 562.4,1257 566.9,1250.5 C571.3,1244 575.8,1237.1 580.2,1232 C584.3,1227.2 588.5,1223.2 592.6,1220.7 C597.4,1217.9 602.2,1216.6 607,1216.1 C610.1,1215.8 613.2,1217.2 616.3,1218.1 C619.7,1219 623.1,1221.5 626.5,1221.5 C630.6,1221.5 634.8,1219 638.9,1218.1 C643.4,1217.1 647.8,1215.3 652.3,1215.6 C655.7,1215.8 659.2,1217 662.6,1219.7 C666,1222.4 669.4,1226.5 672.8,1232 C677.3,1239.2 681.7,1249.1 686.2,1257.7 L686.2,1291.8 L20.6,1291.8 Z" fill="#148711" fill-opacity="0.3"/>
<path d="M20.6,1291.8 C104.3,1291.8 187.9,1292.4 271.6,1291.8 C279.8,1291.7 288.1,1290.7 296.3,1289.8 C303.2,1289 310.1,1288.4 317,1286.8 C324.5,1285.1 332.1,1282.3 339.6,1280 C349,1277.2 358.5,1273.9 367.9,1271.5 C374.7,1269.8 381.5,1269.3 388.3,1267.5 C394.7,1265.9 401.1,1263.1 407.5,1261.3 C413.2,1259.7 418.8,1258.2 424.5,1257.3 C428.3,1256.7 432,1256.5 435.8,1256.8 C439.6,1257.1 443.3,1258 447.1,1259 C454.7,1261 462.2,1262.9 469.8,1265.8 C477.3,1268.7 484.9,1273.5 492.4,1276.6 C494.9,1277.6 497.5,1277.4 500,1278.3 C505.1,1280.2 510.3,1283.3 515.4,1285 C520.2,1286.6 525,1288.2 529.8,1288.1 C533.6,1288 537.4,1287.2 541.2,1284.5 C545.3,1281.6 549.4,1276.5 553.5,1271.1 C558,1265.2 562.4,1257 566.9,1250.5 C571.3,1244 575.8,1237.1 580.2,1232 C584.3,1227.2 588.5,1223.2 592.6,1220.7 C597.4,1217.9 602.2,1216.6 607,1216.1 C610.1,1215.8 613.2,1217.2 616.3,1218.1 C619.7,1219 623.1,1221.5 626.5,1221.5 C630.6,1221.5 634.8,1219 638.9,1218.1 C643.4,1217.1 647.8,1215.3 652.3,1215.6 C655.7,1215.8 659.2,1217 662.6,1219.7 C666,1222.4 669.4,1226.5 672.8,1232 C677.3,1239.2 681.7,1249.1 686.2,1257.7" fill="none" stroke="#000" stroke-width="2.4"/>
<path d="M22.3,1307.8 L22.3,1300.2 L685.8,1300.2 L685.8,1307.8" fill="none" stroke="#000" stroke-width="2.6"/>
<line x1="155.7" y1="1216.5" x2="184.3" y2="1271.3" stroke="#000" stroke-width="1"/>
<line x1="625.4" y1="1154" x2="619" y2="1202.4" stroke="#000" stroke-width="1"/>
<text x="22.6" y="1392.2" font-size="35.1" font-weight="bold">Vapor pressure deficit</text>
<text x="43.9" y="1473.6" font-size="26.4"><tspan font-weight="bold">WITHOUT</tspan> vapor pressure deficit</text>
<text x="542.5" y="1388.4" font-size="26.4" fill="#1a8a1a"><tspan font-weight="bold">WITH</tspan> vapor</text>
<text x="523.3" y="1419.5" font-size="26.4" fill="#1a8a1a">pressure deficit</text>
<path d="M21.4,1554.3 C26.9,1553.9 32.4,1552.8 37.9,1553 C41.7,1553.1 45.6,1554.5 49.4,1555.1 C54.9,1555.9 60.3,1557.2 65.8,1557.3 C74,1557.4 82.3,1555.7 90.5,1555.6 C98.7,1555.5 107,1556.9 115.2,1556.8 C123.4,1556.7 131.7,1555.8 139.9,1555.1 C150.9,1554.2 161.8,1552.4 172.8,1551.9 C178.3,1551.6 183.8,1552.9 189.3,1552.7 C197.5,1552.4 205.8,1550.9 214,1550.2 C219.5,1549.7 225,1549 230.5,1549.1 C238.7,1549.3 246.9,1551.2 255.1,1551 C263.3,1550.8 271.6,1549.1 279.8,1547.7 C286.5,1546.6 293.3,1545 300,1543.6 C305.7,1542.5 311.3,1540.3 317,1540.2 C322.7,1540.1 328.3,1542.6 334,1543 C337.8,1543.3 341.5,1544.6 345.3,1542.4 C349.1,1540.2 352.8,1534.2 356.6,1530 C360.4,1525.8 364.1,1520.3 367.9,1517.5 C370.9,1515.2 374,1515 377,1514.7 C383.4,1514 389.8,1514.7 396.2,1514.4 C401.9,1514.1 407.5,1514 413.2,1513 C418.8,1512 424.5,1510 430.1,1508.5 C432.4,1507.9 434.7,1506.8 437,1506.5 C440.4,1506 443.7,1505.6 447.1,1506.2 C450.1,1506.8 453.2,1508.2 456.2,1510.2 C460.7,1513.1 465.3,1517.1 469.8,1520.9 C473.6,1524.1 477.3,1528.4 481.1,1531.1 C484.9,1533.7 488.6,1535.4 492.4,1536.8 C495.4,1537.9 498.4,1538.6 501.4,1538.5 C504.4,1538.4 507.5,1537 510.5,1536.2 C513.9,1535.3 517.2,1534.4 520.6,1533.6 C524,1532.8 527.5,1532.1 530.9,1531.5 C534.3,1530.9 537.8,1530.4 541.2,1530 C548,1529.2 554.9,1529.3 561.7,1527.9 C565.1,1527.2 568.6,1526.5 572,1523.8 C575.4,1521 578.9,1515.5 582.3,1511.4 C585.7,1507.3 589.2,1503.2 592.6,1499.1 C596,1495 599.5,1489.7 602.9,1486.7 C606.3,1483.7 609.8,1481.9 613.2,1481.1 C616.6,1480.3 620.1,1481.6 623.5,1482.1 C626.9,1482.6 630.3,1483.9 633.7,1484.2 C638.9,1484.7 644,1484.6 649.2,1484.7 C653,1484.8 656.7,1483.4 660.5,1484.7 C663.2,1485.7 666,1487.6 668.7,1491.5 C671.5,1495.4 674.2,1501.1 677,1508 C680.1,1515.6 683.1,1526.1 686.2,1535.1 L686.2,1557.9 L21.4,1557.9 Z" fill="#708090" fill-opacity="0.3"/>
<line x1="498.6" y1="1411.9" x2="498.6" y2="1577.8" stroke="#7d8a99" stroke-width="2.4"/>
<line x1="517.7" y1="1411.9" x2="517.7" y2="1577.8" stroke="#0f800f" stroke-width="2.4"/>
<path d="M21.4,1554.3 C26.9,1553.9 32.4,1552.8 37.9,1553 C41.7,1553.1 45.6,1554.5 49.4,1555.1 C54.9,1555.9 60.3,1557.2 65.8,1557.3 C74,1557.4 82.3,1555.7 90.5,1555.6 C98.7,1555.5 107,1556.9 115.2,1556.8 C123.4,1556.7 131.7,1555.8 139.9,1555.1 C150.9,1554.2 161.8,1552.4 172.8,1551.9 C178.3,1551.6 183.8,1552.9 189.3,1552.7 C197.5,1552.4 205.8,1550.9 214,1550.2 C219.5,1549.7 225,1549 230.5,1549.1 C238.7,1549.3 246.9,1551.2 255.1,1551 C263.3,1550.8 271.6,1549.1 279.8,1547.7 C286.5,1546.6 293.3,1545 300,1543.6 C305.7,1542.5 311.3,1540.3 317,1540.2 C322.7,1540.1 328.3,1542.6 334,1543 C337.8,1543.3 341.5,1544.6 345.3,1542.4 C349.1,1540.2 352.8,1534.2 356.6,1530 C360.4,1525.8 364.1,1520.3 367.9,1517.5 C370.9,1515.2 374,1515 377,1514.7 C383.4,1514 389.8,1514.7 396.2,1514.4 C401.9,1514.1 407.5,1514 413.2,1513 C418.8,1512 424.5,1510 430.1,1508.5 C432.4,1507.9 434.7,1506.8 437,1506.5 C440.4,1506 443.7,1505.6 447.1,1506.2 C450.1,1506.8 453.2,1508.2 456.2,1510.2 C460.7,1513.1 465.3,1517.1 469.8,1520.9 C473.6,1524.1 477.3,1528.4 481.1,1531.1 C484.9,1533.7 488.6,1535.4 492.4,1536.8 C495.4,1537.9 498.4,1538.6 501.4,1538.5 C504.4,1538.4 507.5,1537 510.5,1536.2 C513.9,1535.3 517.2,1534.4 520.6,1533.6 C524,1532.8 527.5,1532.1 530.9,1531.5 C534.3,1530.9 537.8,1530.4 541.2,1530 C548,1529.2 554.9,1529.3 561.7,1527.9 C565.1,1527.2 568.6,1526.5 572,1523.8 C575.4,1521 578.9,1515.5 582.3,1511.4 C585.7,1507.3 589.2,1503.2 592.6,1499.1 C596,1495 599.5,1489.7 602.9,1486.7 C606.3,1483.7 609.8,1481.9 613.2,1481.1 C616.6,1480.3 620.1,1481.6 623.5,1482.1 C626.9,1482.6 630.3,1483.9 633.7,1484.2 C638.9,1484.7 644,1484.6 649.2,1484.7 C653,1484.8 656.7,1483.4 660.5,1484.7 C663.2,1485.7 666,1487.6 668.7,1491.5 C671.5,1495.4 674.2,1501.1 677,1508 C680.1,1515.6 683.1,1526.1 686.2,1535.1" fill="none" stroke="#000" stroke-width="2.4"/>
<path d="M21.4,1557.9 C29.6,1557.3 37.9,1556 46.1,1556 C58.2,1555.9 70.2,1557.4 82.3,1557.6 C96,1557.9 109.8,1558.3 123.5,1557.6 C131.7,1557.2 139.9,1554.7 148.1,1554.3 C156.3,1553.9 164.6,1555.4 172.8,1555.1 C178.3,1554.9 183.8,1553.3 189.3,1552.7 C200.3,1551.4 211.2,1549.5 222.2,1549.4 C230.4,1549.3 238.7,1552.2 246.9,1552.3 C255.1,1552.4 263.4,1551.4 271.6,1550.2 C277.1,1549.4 282.6,1547 288.1,1546.1 C292.1,1545.5 296,1546.2 300,1545.8 C307.5,1545 315.1,1542.6 322.6,1542.4 C328.3,1542.2 333.9,1544.6 339.6,1544.7 C343.4,1544.8 347.1,1544.5 350.9,1543 C354.7,1541.5 358.4,1537.6 362.2,1535.6 C366.4,1533.4 370.5,1530.9 374.7,1530.5 C377.7,1530.2 380.7,1532 383.7,1533.4 C388.6,1535.6 393.6,1540.1 398.5,1541.3 C401.5,1542 404.5,1540.8 407.5,1539 C411.3,1536.7 415,1533 418.8,1528.8 C422.6,1524.6 426.3,1518.5 430.1,1514.1 C432.8,1511 435.4,1508.5 438.1,1506.2 C441.1,1503.6 444.1,1500.7 447.1,1499.4 C450.9,1497.7 454.6,1497.1 458.4,1497.2 C464.1,1497.3 469.7,1499.6 475.4,1500 C481.1,1500.4 486.7,1499.4 492.4,1499.7 C494.7,1499.8 496.9,1500.1 499.2,1501.1 C502.6,1502.6 506,1504.5 509.4,1507.3 C513.1,1510.4 516.9,1515.2 520.6,1518.6 C524,1521.7 527.5,1525.1 530.9,1526.9 C534.3,1528.7 537.8,1529.3 541.2,1529.4 C548,1529.6 554.9,1529.1 561.7,1527.9 C565.1,1527.3 568.6,1526.5 572,1523.8 C575.4,1521 578.9,1515.5 582.3,1511.4 C585.7,1507.3 589.2,1503.2 592.6,1499.1 C596,1495 599.5,1489.7 602.9,1486.7 C606.3,1483.7 609.8,1481.9 613.2,1481.1 C616.6,1480.3 620.1,1481.6 623.5,1482.1 C626.9,1482.6 630.3,1483.9 633.7,1484.2 C638.9,1484.7 644,1484.6 649.2,1484.7 C653,1484.8 656.7,1483.5 660.5,1484.7 C663.2,1485.6 666,1487.3 668.7,1490.9 C671.5,1494.5 674.2,1500.3 677,1506.3 C680.1,1513 683.1,1521.4 686.2,1528.9 L686.2,1557.9 L21.4,1557.9 Z" fill="#148711" fill-opacity="0.3"/>
<path d="M21.4,1557.9 C29.6,1557.3 37.9,1556 46.1,1556 C58.2,1555.9 70.2,1557.4 82.3,1557.6 C96,1557.9 109.8,1558.3 123.5,1557.6 C131.7,1557.2 139.9,1554.7 148.1,1554.3 C156.3,1553.9 164.6,1555.4 172.8,1555.1 C178.3,1554.9 183.8,1553.3 189.3,1552.7 C200.3,1551.4 211.2,1549.5 222.2,1549.4 C230.4,1549.3 238.7,1552.2 246.9,1552.3 C255.1,1552.4 263.4,1551.4 271.6,1550.2 C277.1,1549.4 282.6,1547 288.1,1546.1 C292.1,1545.5 296,1546.2 300,1545.8 C307.5,1545 315.1,1542.6 322.6,1542.4 C328.3,1542.2 333.9,1544.6 339.6,1544.7 C343.4,1544.8 347.1,1544.5 350.9,1543 C354.7,1541.5 358.4,1537.6 362.2,1535.6 C366.4,1533.4 370.5,1530.9 374.7,1530.5 C377.7,1530.2 380.7,1532 383.7,1533.4 C388.6,1535.6 393.6,1540.1 398.5,1541.3 C401.5,1542 404.5,1540.8 407.5,1539 C411.3,1536.7 415,1533 418.8,1528.8 C422.6,1524.6 426.3,1518.5 430.1,1514.1 C432.8,1511 435.4,1508.5 438.1,1506.2 C441.1,1503.6 444.1,1500.7 447.1,1499.4 C450.9,1497.7 454.6,1497.1 458.4,1497.2 C464.1,1497.3 469.7,1499.6 475.4,1500 C481.1,1500.4 486.7,1499.4 492.4,1499.7 C494.7,1499.8 496.9,1500.1 499.2,1501.1 C502.6,1502.6 506,1504.5 509.4,1507.3 C513.1,1510.4 516.9,1515.2 520.6,1518.6 C524,1521.7 527.5,1525.1 530.9,1526.9 C534.3,1528.7 537.8,1529.3 541.2,1529.4 C548,1529.6 554.9,1529.1 561.7,1527.9 C565.1,1527.3 568.6,1526.5 572,1523.8 C575.4,1521 578.9,1515.5 582.3,1511.4 C585.7,1507.3 589.2,1503.2 592.6,1499.1 C596,1495 599.5,1489.7 602.9,1486.7 C606.3,1483.7 609.8,1481.9 613.2,1481.1 C616.6,1480.3 620.1,1481.6 623.5,1482.1 C626.9,1482.6 630.3,1483.9 633.7,1484.2 C638.9,1484.7 644,1484.6 649.2,1484.7 C653,1484.8 656.7,1483.5 660.5,1484.7 C663.2,1485.6 666,1487.3 668.7,1490.9 C671.5,1494.5 674.2,1500.3 677,1506.3 C680.1,1513 683.1,1521.4 686.2,1528.9" fill="none" stroke="#000" stroke-width="2.4"/>
<path d="M22.3,1573.2 L22.3,1566 L685.8,1566 L685.8,1573.2" fill="none" stroke="#000" stroke-width="2.6"/>
<line x1="232.8" y1="1487.2" x2="399.4" y2="1531.8" stroke="#000" stroke-width="1"/>
<line x1="606.3" y1="1432.3" x2="622.9" y2="1506.3" stroke="#000" stroke-width="1"/>
<text x="0.5" y="1597.3" font-size="20.9">0.424</text>
<text x="665.5" y="1597.3" font-size="20.9">0.417</text>
<text x="190" y="1642.9" font-size="30.4">Out-of-sample RMSE</text>
<rect x="120.3" y="1703.6" width="33.7" height="33.5" fill="#a7cf9f" stroke="#1a1a1a" stroke-width="3.2"/>
<rect x="120.3" y="1747.2" width="33.7" height="33.5" fill="#c4c8cd" stroke="#1a1a1a" stroke-width="3.2"/>
<text x="172.9" y="1729.6" font-size="26.2">models include named weather term</text>
<text x="172.9" y="1777.2" font-size="26.2">models exclude named weather term</text>
<text x="854.4" y="584.6" font-size="26.4" text-anchor="middle">Weather</text>
<text x="854.4" y="616.2" font-size="26.4" text-anchor="middle">variable selected</text>
<path d="M743,637.2 L945,637.2 L945,629.2 L964.9,640.5 L945,651.8 L945,643.8 L743,643.8 Z" fill="#000"/>
<text x="854.2" y="869" font-size="26.4" text-anchor="middle">Weather variable</text>
<text x="854.2" y="900.7" font-size="26.4" text-anchor="middle">NOT selected</text>
<line x1="743" y1="923.2" x2="965" y2="923.2" stroke="#000" stroke-width="7" stroke-dasharray="18.6 18.12" stroke-dashoffset="8.3"/>
<text x="854.4" y="1139.6" font-size="26.4" text-anchor="middle">Weather</text>
<text x="854.4" y="1171.5" font-size="26.4" text-anchor="middle">variable selected</text>
<path d="M743,1191.2 L945,1191.2 L945,1183.1 L964.9,1194.4 L945,1205.7 L945,1197.7 L743,1197.7 Z" fill="#000"/>
<text x="854.2" y="1424.1" font-size="26.4" text-anchor="middle">Weather variable</text>
<text x="854.2" y="1456" font-size="26.4" text-anchor="middle">NOT selected</text>
<line x1="743" y1="1475.7" x2="965" y2="1475.7" stroke="#000" stroke-width="7" stroke-dasharray="18.6 18.12" stroke-dashoffset="8.3"/>
<text x="1023.6" y="32.2" font-size="43.9" font-weight="bold">B) Adaptation cross-validation for maize</text>
<text x="1024.6" y="75.6" font-size="30.6" font-weight="bold" font-style="italic">Step 2: Weather variables interacted with selected adaptation variables</text>
<rect x="1024.8" y="103.4" width="37.7" height="63.3" fill="#fcd5d8"/>
<line x1="1024.8" y1="134.9" x2="1062.5" y2="134.9" stroke="#ae0b3b" stroke-width="2.6"/>
<text x="1071.9" y="126.6" font-size="26.3">predicted response of weather term in</text>
<text x="1071.9" y="157.5" font-size="26.3"><tspan font-weight="bold">upper</tspan> tercile of adaptation term (w/ 95% CI)</text>
<rect x="1599.4" y="103" width="35.5" height="63.7" fill="#d3d6f5"/>
<line x1="1599.4" y1="134.9" x2="1634.9" y2="134.9" stroke="#2129b5" stroke-width="2.6"/>
<text x="1644.3" y="126.6" font-size="26.3">predicted response of weather term in</text>
<text x="1644.3" y="157.5" font-size="26.3"><tspan font-weight="bold">lower</tspan> tercile of adaptation term (w/ 95% CI)</text>
<text x="1175.2" y="262.5" font-size="30.4" text-anchor="middle">Effect</text>
<text x="1175.2" y="299.7" font-size="30.4" text-anchor="middle">mediated by</text>
<text x="1174.4" y="336.5" font-size="30.5" font-weight="bold" text-anchor="middle">Average</text>
<text x="1174.4" y="372.6" font-size="30.5" font-weight="bold" text-anchor="middle">Temperature</text>
<path d="M1171.2,388.3 L1177.7,388.3 L1177.7,501.8 L1186.1,501.8 L1174.4,522 L1162.7,501.8 L1171.2,501.8 Z" fill="#000"/>
<text x="1393.5" y="262.5" font-size="30.4" text-anchor="middle">Effect</text>
<text x="1393.5" y="299.7" font-size="30.4" text-anchor="middle">mediated by</text>
<text x="1392.7" y="336.5" font-size="30.5" font-weight="bold" text-anchor="middle">Average</text>
<text x="1392.7" y="372.6" font-size="30.5" font-weight="bold" text-anchor="middle">Precipitation</text>
<path d="M1389.5,388.3 L1396,388.3 L1396,501.8 L1404.4,501.8 L1392.7,522 L1381,501.8 L1389.5,501.8 Z" fill="#000"/>
<text x="1614" y="262.5" font-size="30.4" text-anchor="middle">Effect</text>
<text x="1614" y="299.7" font-size="30.4" text-anchor="middle">mediated by</text>
<text x="1613.2" y="336.5" font-size="30.5" font-weight="bold" text-anchor="middle" word-spacing="3.0">Av. Temp. X</text>
<text x="1613.2" y="372.6" font-size="30.5" font-weight="bold" text-anchor="middle" word-spacing="1.5">Av. Precip.</text>
<path d="M1610,388.3 L1616.5,388.3 L1616.5,501.8 L1624.9,501.8 L1613.2,522 L1601.5,501.8 L1610,501.8 Z" fill="#000"/>
<text x="1833.7" y="262.5" font-size="30.4" text-anchor="middle">Effect</text>
<text x="1833.7" y="299.7" font-size="30.4" text-anchor="middle">mediated by</text>
<text x="1832.9" y="336.5" font-size="30.5" font-weight="bold" text-anchor="middle">GDP</text>
<text x="1837.9" y="372.6" font-size="30.5" font-weight="bold" text-anchor="middle">per capita</text>
<path d="M1829.7,388.3 L1836.2,388.3 L1836.2,501.8 L1844.6,501.8 L1832.9,522 L1821.2,501.8 L1829.7,501.8 Z" fill="#000"/>
<text x="2052.7" y="262.5" font-size="30.4" text-anchor="middle">Effect</text>
<text x="2052.7" y="299.7" font-size="30.4" text-anchor="middle">mediated by</text>
<text x="2051.9" y="336.5" font-size="30.5" font-weight="bold" text-anchor="middle">Irrigation</text>
<text x="2051.9" y="372.6" font-size="30.5" font-weight="bold" text-anchor="middle">share</text>
<path d="M2048.7,388.3 L2055.2,388.3 L2055.2,501.8 L2063.6,501.8 L2051.9,522 L2040.2,501.8 L2048.7,501.8 Z" fill="#000"/>
<line x1="1080.9" y1="593.9" x2="1262.5" y2="593.9" stroke="#c8c8c8" stroke-width="1.2"/>
<polygon points="1090.1,593.9 1129.9,593.9 1222.7,587.4 1262.5,645.9 1262.5,697.9 1222.7,596 1129.9,593.9 1090.1,593.9" fill="#2d37d7" fill-opacity="0.2"/>
<polygon points="1090.1,593.9 1129.9,593.9 1222.7,590.8 1262.5,599.8 1262.5,618.3 1222.7,597 1129.9,593.9 1090.1,593.9" fill="#f01432" fill-opacity="0.18"/>
<polyline points="1090.1,593.9 1129.9,593.9 1222.7,592.2 1262.5,672.7" fill="none" stroke="#2129b5" stroke-width="2.4" stroke-linejoin="round"/>
<polyline points="1090.1,593.9 1129.9,593.9 1222.7,594.4 1262.5,609.5" fill="none" stroke="#ae0b3b" stroke-width="2.4" stroke-linejoin="round"/>
<rect x="1077.9" y="541" width="193.8" height="194.6" fill="none" stroke="#000" stroke-width="2.7"/>
<line x1="1085.7" y1="736.8" x2="1085.7" y2="741.1" stroke="#333" stroke-width="1.3"/>
<line x1="1129.9" y1="736.8" x2="1129.9" y2="741.1" stroke="#333" stroke-width="1.3"/>
<line x1="1174.1" y1="736.8" x2="1174.1" y2="741.1" stroke="#333" stroke-width="1.3"/>
<line x1="1218.3" y1="736.8" x2="1218.3" y2="741.1" stroke="#333" stroke-width="1.3"/>
<line x1="1262.5" y1="736.8" x2="1262.5" y2="741.1" stroke="#333" stroke-width="1.3"/>
<text x="1085.7" y="756.6" font-size="16.5" text-anchor="middle">0</text>
<text x="1262.5" y="756.6" font-size="16.5" text-anchor="middle">40</text>
<line x1="1296.3" y1="593.9" x2="1481.4" y2="593.9" stroke="#c8c8c8" stroke-width="1.2"/>
<polygon points="1305.6,593.9 1346.2,593.9 1440.8,594.5 1481.4,605.3 1481.4,636.2 1440.8,602.2 1346.2,593.9 1305.6,593.9" fill="#2d37d7" fill-opacity="0.2"/>
<polygon points="1305.6,593.9 1346.2,593.9 1440.8,577.5 1481.4,612 1481.4,648.5 1440.8,593 1346.2,593.9 1305.6,593.9" fill="#f01432" fill-opacity="0.18"/>
<polyline points="1305.6,593.9 1346.2,593.9 1440.8,597.9 1481.4,620.7" fill="none" stroke="#2129b5" stroke-width="2.4" stroke-linejoin="round"/>
<polyline points="1305.6,593.9 1346.2,593.9 1440.8,586.2 1481.4,633" fill="none" stroke="#ae0b3b" stroke-width="2.4" stroke-linejoin="round"/>
<rect x="1293.3" y="541" width="197.3" height="194.6" fill="none" stroke="#000" stroke-width="2.7"/>
<line x1="1301.1" y1="736.8" x2="1301.1" y2="741.1" stroke="#333" stroke-width="1.3"/>
<line x1="1346.2" y1="736.8" x2="1346.2" y2="741.1" stroke="#333" stroke-width="1.3"/>
<line x1="1391.2" y1="736.8" x2="1391.2" y2="741.1" stroke="#333" stroke-width="1.3"/>
<line x1="1436.3" y1="736.8" x2="1436.3" y2="741.1" stroke="#333" stroke-width="1.3"/>
<line x1="1481.4" y1="736.8" x2="1481.4" y2="741.1" stroke="#333" stroke-width="1.3"/>
<text x="1301.1" y="756.6" font-size="16.5" text-anchor="middle">0</text>
<text x="1481.4" y="756.6" font-size="16.5" text-anchor="middle">40</text>
<line x1="1516.7" y1="593.9" x2="1701.1" y2="593.9" stroke="#c8c8c8" stroke-width="1.2"/>
<polygon points="1526,593.9 1566.4,593.9 1660.7,592.7 1701.1,620.2 1701.1,649.3 1660.7,601.3 1566.4,593.9 1526,593.9" fill="#2d37d7" fill-opacity="0.2"/>
<polygon points="1526,593.9 1566.4,593.9 1660.7,575.6 1701.1,604.7 1701.1,630.5 1660.7,594.4 1566.4,593.9 1526,593.9" fill="#f01432" fill-opacity="0.18"/>
<polyline points="1526,593.9 1566.4,593.9 1660.7,596.2 1701.1,633.2" fill="none" stroke="#2129b5" stroke-width="2.4" stroke-linejoin="round"/>
<polyline points="1526,593.9 1566.4,593.9 1660.7,585.9 1701.1,617.8" fill="none" stroke="#ae0b3b" stroke-width="2.4" stroke-linejoin="round"/>
<rect x="1513.7" y="541" width="196.6" height="194.6" fill="none" stroke="#000" stroke-width="2.7"/>
<line x1="1521.5" y1="736.8" x2="1521.5" y2="741.1" stroke="#333" stroke-width="1.3"/>
<line x1="1566.4" y1="736.8" x2="1566.4" y2="741.1" stroke="#333" stroke-width="1.3"/>
<line x1="1611.3" y1="736.8" x2="1611.3" y2="741.1" stroke="#333" stroke-width="1.3"/>
<line x1="1656.2" y1="736.8" x2="1656.2" y2="741.1" stroke="#333" stroke-width="1.3"/>
<line x1="1701.1" y1="736.8" x2="1701.1" y2="741.1" stroke="#333" stroke-width="1.3"/>
<text x="1521.5" y="756.6" font-size="16.5" text-anchor="middle">0</text>
<text x="1701.1" y="756.6" font-size="16.5" text-anchor="middle">40</text>
<line x1="1737" y1="593.9" x2="1921.4" y2="593.9" stroke="#c8c8c8" stroke-width="1.2"/>
<polygon points="1746.3,593.9 1786.7,593.9 1881,592 1921.4,616.7 1921.4,651 1881,602.3 1786.7,593.9 1746.3,593.9" fill="#2d37d7" fill-opacity="0.2"/>
<polygon points="1746.3,593.9 1786.7,593.9 1881,584.2 1921.4,627 1921.4,661.4 1881,594.4 1786.7,593.9 1746.3,593.9" fill="#f01432" fill-opacity="0.18"/>
<polyline points="1746.3,593.9 1786.7,593.9 1881,596.2 1921.4,634.6" fill="none" stroke="#2129b5" stroke-width="2.4" stroke-linejoin="round"/>
<polyline points="1746.3,593.9 1786.7,593.9 1881,588.6 1921.4,644.2" fill="none" stroke="#ae0b3b" stroke-width="2.4" stroke-linejoin="round"/>
<rect x="1734" y="541" width="196.6" height="194.6" fill="none" stroke="#000" stroke-width="2.7"/>
<line x1="1741.8" y1="736.8" x2="1741.8" y2="741.1" stroke="#333" stroke-width="1.3"/>
<line x1="1786.7" y1="736.8" x2="1786.7" y2="741.1" stroke="#333" stroke-width="1.3"/>
<line x1="1831.6" y1="736.8" x2="1831.6" y2="741.1" stroke="#333" stroke-width="1.3"/>
<line x1="1876.5" y1="736.8" x2="1876.5" y2="741.1" stroke="#333" stroke-width="1.3"/>
<line x1="1921.4" y1="736.8" x2="1921.4" y2="741.1" stroke="#333" stroke-width="1.3"/>
<text x="1741.8" y="756.6" font-size="16.5" text-anchor="middle">0</text>
<text x="1921.4" y="756.6" font-size="16.5" text-anchor="middle">40</text>
<line x1="1957.6" y1="593.9" x2="2142" y2="593.9" stroke="#c8c8c8" stroke-width="1.2"/>
<polygon points="1966.9,593.9 2007.3,593.9 2101.6,590 2142,628 2142,648 2101.6,594 2007.3,593.9 1966.9,593.9" fill="#2d37d7" fill-opacity="0.2"/>
<polygon points="1966.9,593.9 2007.3,593.9 2101.6,585.9 2142,624.3 2142,654.5 2101.6,594.4 2007.3,593.9 1966.9,593.9" fill="#f01432" fill-opacity="0.18"/>
<polyline points="1966.9,593.9 2007.3,593.9 2101.6,592 2142,638" fill="none" stroke="#2129b5" stroke-width="2.4" stroke-linejoin="round"/>
<polyline points="1966.9,593.9 2007.3,593.9 2101.6,590 2142,639.7" fill="none" stroke="#ae0b3b" stroke-width="2.4" stroke-linejoin="round"/>
<rect x="1954.6" y="541" width="196.6" height="194.6" fill="none" stroke="#000" stroke-width="2.7"/>
<line x1="1962.4" y1="736.8" x2="1962.4" y2="741.1" stroke="#333" stroke-width="1.3"/>
<line x1="2007.3" y1="736.8" x2="2007.3" y2="741.1" stroke="#333" stroke-width="1.3"/>
<line x1="2052.2" y1="736.8" x2="2052.2" y2="741.1" stroke="#333" stroke-width="1.3"/>
<line x1="2097.1" y1="736.8" x2="2097.1" y2="741.1" stroke="#333" stroke-width="1.3"/>
<line x1="2142" y1="736.8" x2="2142" y2="741.1" stroke="#333" stroke-width="1.3"/>
<text x="1962.4" y="756.6" font-size="16.5" text-anchor="middle">0</text>
<text x="2142" y="756.6" font-size="16.5" text-anchor="middle">40</text>
<line x1="1072.2" y1="550.2" x2="1077.5" y2="550.2" stroke="#444" stroke-width="1.3"/>
<text x="1065" y="555.5" font-size="17" text-anchor="end">.05</text>
<line x1="1072.2" y1="593.9" x2="1077.5" y2="593.9" stroke="#444" stroke-width="1.3"/>
<text x="1065" y="599.2" font-size="17" text-anchor="end">0</text>
<line x1="1072.2" y1="638.2" x2="1077.5" y2="638.2" stroke="#444" stroke-width="1.3"/>
<text x="1065" y="643.5" font-size="17" text-anchor="end">-.05</text>
<line x1="1072.2" y1="682.1" x2="1077.5" y2="682.1" stroke="#444" stroke-width="1.3"/>
<text x="1065" y="687.4" font-size="17" text-anchor="end">-.10</text>
<line x1="1072.2" y1="726.2" x2="1077.5" y2="726.2" stroke="#444" stroke-width="1.3"/>
<text x="1065" y="731.5" font-size="17" text-anchor="end">-.15</text>
<text x="0" y="0" font-size="26.2" text-anchor="middle" transform="translate(1024.7,634.2) rotate(-90)">log(yield)</text>
<text x="1081.6" y="663.3" font-size="23.7" fill="#ae0b3b">high avg. temp.</text>
<text x="1081.6" y="714.3" font-size="23.7" fill="#2129b5">low&#160;&#160;avg. temp.</text>
<line x1="1189" y1="640.2" x2="1253.8" y2="606.2" stroke="#000" stroke-width="1"/>
<line x1="1189" y1="691.1" x2="1256.9" y2="664.6" stroke="#000" stroke-width="1"/>
<text x="1509.6" y="784.7" font-size="26.4">Temperature (<tspan font-size="13" dy="-9.5">O</tspan><tspan dx="1.5" dy="9.5">C)</tspan></text>
<rect x="1074.4" y="822.2" width="199" height="199.1" fill="#d9d9d9"/>
<line x1="1075" y1="1020.7" x2="1272.8" y2="822.8" stroke="#666" stroke-width="2.1"/>
<rect x="1295.2" y="822.2" width="199" height="199.1" fill="#d9d9d9"/>
<line x1="1295.8" y1="1020.7" x2="1493.6" y2="822.8" stroke="#666" stroke-width="2.1"/>
<rect x="1515.1" y="822.2" width="199" height="199.1" fill="#d9d9d9"/>
<line x1="1515.7" y1="1020.7" x2="1713.5" y2="822.8" stroke="#666" stroke-width="2.1"/>
<rect x="1736.1" y="822.2" width="199" height="199.1" fill="#d9d9d9"/>
<line x1="1736.7" y1="1020.7" x2="1934.5" y2="822.8" stroke="#666" stroke-width="2.1"/>
<rect x="1953.6" y="822.2" width="199" height="199.1" fill="#d9d9d9"/>
<line x1="1954.2" y1="1020.7" x2="2152" y2="822.8" stroke="#666" stroke-width="2.1"/>
<rect x="1071.9" y="1374.3" width="199" height="198.9" fill="#d9d9d9"/>
<line x1="1072.5" y1="1572.6" x2="1270.3" y2="1374.9" stroke="#666" stroke-width="2.1"/>
<rect x="1292.8" y="1374.3" width="199" height="198.9" fill="#d9d9d9"/>
<line x1="1293.4" y1="1572.6" x2="1491.2" y2="1374.9" stroke="#666" stroke-width="2.1"/>
<rect x="1512.5" y="1374.3" width="199" height="198.9" fill="#d9d9d9"/>
<line x1="1513.1" y1="1572.6" x2="1710.9" y2="1374.9" stroke="#666" stroke-width="2.1"/>
<rect x="1733.9" y="1374.3" width="199" height="198.9" fill="#d9d9d9"/>
<line x1="1734.5" y1="1572.6" x2="1932.3" y2="1374.9" stroke="#666" stroke-width="2.1"/>
<rect x="1951.3" y="1374.3" width="199" height="198.9" fill="#d9d9d9"/>
<line x1="1951.9" y1="1572.6" x2="2149.7" y2="1374.9" stroke="#666" stroke-width="2.1"/>
<line x1="1081.3" y1="1190.2" x2="1263" y2="1190.2" stroke="#c8c8c8" stroke-width="1.2"/>
<polygon points="1086.9,1190.2 1091.3,1185.6 1095.7,1181.3 1100.1,1177.2 1104.5,1173.3 1108.9,1169.6 1113.3,1166.1 1117.7,1162.9 1122.1,1159.8 1126.5,1157 1130.9,1154.5 1135.3,1152.1 1139.7,1150 1144.1,1148 1148.5,1146.3 1152.9,1144.9 1157.3,1143.6 1161.7,1142.6 1166.1,1141.8 1170.5,1141.2 1175,1140.8 1179.4,1140.6 1183.8,1140.7 1188.2,1141 1192.6,1141.5 1197,1142.2 1201.4,1143.2 1205.8,1144.4 1210.2,1145.8 1214.6,1147.4 1219,1149.2 1223.4,1151.3 1227.8,1153.5 1232.2,1156 1236.6,1158.8 1241,1161.7 1245.4,1164.9 1249.8,1168.2 1254.2,1171.8 1258.6,1175.7 1263,1179.7 1263,1221.4 1258.6,1216.9 1254.2,1212.5 1249.8,1208.3 1245.4,1204.4 1241,1200.6 1236.6,1197 1232.2,1193.6 1227.8,1190.5 1223.4,1187.5 1219,1184.7 1214.6,1182 1210.2,1179.6 1205.8,1177.4 1201.4,1175.4 1197,1173.5 1192.6,1171.9 1188.2,1170.4 1183.8,1169.1 1179.4,1168.1 1175,1167.2 1170.5,1166.5 1166.1,1166 1161.7,1165.7 1157.3,1165.6 1152.9,1165.7 1148.5,1166 1144.1,1166.5 1139.7,1167.1 1135.3,1168 1130.9,1169 1126.5,1170.3 1122.1,1171.7 1117.7,1173.4 1113.3,1175.2 1108.9,1177.2 1104.5,1179.4 1100.1,1181.8 1095.7,1184.4 1091.3,1187.2 1086.9,1190.2" fill="#2d37d7" fill-opacity="0.2"/>
<polygon points="1086.9,1190.2 1091.3,1184.5 1095.7,1179 1100.1,1173.8 1104.5,1168.8 1108.9,1164 1113.3,1159.5 1117.7,1155.2 1122.1,1151.1 1126.5,1147.2 1130.9,1143.6 1135.3,1140.2 1139.7,1137.1 1144.1,1134.1 1148.5,1131.4 1152.9,1128.9 1157.3,1126.7 1161.7,1124.7 1166.1,1122.9 1170.5,1121.3 1175,1120 1179.4,1118.9 1183.8,1118 1188.2,1117.4 1192.6,1117 1197,1116.8 1201.4,1116.9 1205.8,1117.1 1210.2,1117.7 1214.6,1118.4 1219,1119.4 1223.4,1120.6 1227.8,1122 1232.2,1123.7 1236.6,1125.5 1241,1127.7 1245.4,1130 1249.8,1132.6 1254.2,1135.4 1258.6,1138.4 1263,1141.7 1263,1183.9 1258.6,1180.6 1254.2,1177.4 1249.8,1174.5 1245.4,1171.7 1241,1169.1 1236.6,1166.7 1232.2,1164.4 1227.8,1162.3 1223.4,1160.5 1219,1158.7 1214.6,1157.2 1210.2,1155.8 1205.8,1154.7 1201.4,1153.7 1197,1152.8 1192.6,1152.2 1188.2,1151.7 1183.8,1151.4 1179.4,1151.3 1175,1151.4 1170.5,1151.6 1166.1,1152.1 1161.7,1152.7 1157.3,1153.5 1152.9,1154.4 1148.5,1155.6 1144.1,1156.9 1139.7,1158.4 1135.3,1160 1130.9,1161.9 1126.5,1163.9 1122.1,1166.1 1117.7,1168.5 1113.3,1171.1 1108.9,1173.8 1104.5,1176.7 1100.1,1179.8 1095.7,1183.1 1091.3,1186.6 1086.9,1190.2" fill="#f01432" fill-opacity="0.18"/>
<polyline points="1086.9,1190.2 1091.3,1186.6 1095.7,1183.1 1100.1,1179.9 1104.5,1176.8 1108.9,1173.9 1113.3,1171.2 1117.7,1168.7 1122.1,1166.4 1126.5,1164.3 1130.9,1162.3 1135.3,1160.6 1139.7,1159 1144.1,1157.6 1148.5,1156.5 1152.9,1155.5 1157.3,1154.7 1161.7,1154 1166.1,1153.6 1170.5,1153.4 1175,1153.3 1179.4,1153.4 1183.8,1153.8 1188.2,1154.3 1192.6,1155 1197,1155.8 1201.4,1156.9 1205.8,1158.2 1210.2,1159.6 1214.6,1161.3 1219,1163.1 1223.4,1165.1 1227.8,1167.3 1232.2,1169.7 1236.6,1172.3 1241,1175 1245.4,1178 1249.8,1181.1 1254.2,1184.5 1258.6,1188 1263,1191.7" fill="none" stroke="#2129b5" stroke-width="2.4"/>
<polyline points="1086.9,1190.2 1091.3,1185.6 1095.7,1181.2 1100.1,1177 1104.5,1173 1108.9,1169.3 1113.3,1165.7 1117.7,1162.3 1122.1,1159.1 1126.5,1156.1 1130.9,1153.4 1135.3,1150.8 1139.7,1148.4 1144.1,1146.2 1148.5,1144.3 1152.9,1142.5 1157.3,1140.9 1161.7,1139.6 1166.1,1138.4 1170.5,1137.5 1175,1136.7 1179.4,1136.1 1183.8,1135.8 1188.2,1135.6 1192.6,1135.7 1197,1135.9 1201.4,1136.4 1205.8,1137 1210.2,1137.9 1214.6,1139 1219,1140.2 1223.4,1141.7 1227.8,1143.3 1232.2,1145.2 1236.6,1147.3 1241,1149.5 1245.4,1152 1249.8,1154.7 1254.2,1157.5 1258.6,1160.6 1263,1163.9" fill="none" stroke="#ae0b3b" stroke-width="2.4"/>
<rect x="1078.3" y="1094.2" width="193.4" height="193" fill="none" stroke="#000" stroke-width="2.7"/>
<line x1="1086.9" y1="1288.4" x2="1086.9" y2="1292.7" stroke="#333" stroke-width="1.3"/>
<line x1="1122.1" y1="1288.4" x2="1122.1" y2="1292.7" stroke="#333" stroke-width="1.3"/>
<line x1="1157.3" y1="1288.4" x2="1157.3" y2="1292.7" stroke="#333" stroke-width="1.3"/>
<line x1="1192.6" y1="1288.4" x2="1192.6" y2="1292.7" stroke="#333" stroke-width="1.3"/>
<line x1="1227.8" y1="1288.4" x2="1227.8" y2="1292.7" stroke="#333" stroke-width="1.3"/>
<line x1="1263" y1="1288.4" x2="1263" y2="1292.7" stroke="#333" stroke-width="1.3"/>
<text x="1086.9" y="1308.2" font-size="17" text-anchor="middle">0</text>
<text x="1263" y="1308.2" font-size="17" text-anchor="middle">500</text>
<line x1="1295.5" y1="1190.2" x2="1483.3" y2="1190.2" stroke="#c8c8c8" stroke-width="1.2"/>
<polygon points="1301.4,1190.2 1305.9,1183.7 1310.5,1177.5 1315,1171.6 1319.6,1165.9 1324.1,1160.6 1328.7,1155.5 1333.2,1150.7 1337.8,1146.2 1342.3,1142 1346.9,1138.1 1351.4,1134.5 1356,1131.1 1360.5,1128 1365.1,1125.3 1369.6,1122.8 1374.2,1120.6 1378.7,1118.6 1383.3,1117 1387.8,1115.7 1392.3,1114.6 1396.9,1113.8 1401.4,1113.3 1406,1113.1 1410.5,1113.2 1415.1,1113.6 1419.6,1114.2 1424.2,1115.2 1428.7,1116.4 1433.3,1117.9 1437.8,1119.7 1442.4,1121.8 1446.9,1124.2 1451.5,1126.9 1456,1129.8 1460.6,1133 1465.1,1136.6 1469.7,1140.4 1474.2,1144.5 1478.8,1148.8 1483.3,1153.5 1483.3,1221.6 1478.8,1215.4 1474.2,1209.6 1469.7,1204 1465.1,1198.6 1460.6,1193.6 1456,1188.8 1451.5,1184.3 1446.9,1180.1 1442.4,1176.1 1437.8,1172.4 1433.3,1169 1428.7,1165.9 1424.2,1163 1419.6,1160.5 1415.1,1158.2 1410.5,1156.1 1406,1154.4 1401.4,1152.9 1396.9,1151.7 1392.3,1150.8 1387.8,1150.2 1383.3,1149.8 1378.7,1149.7 1374.2,1149.9 1369.6,1150.3 1365.1,1151 1360.5,1152.1 1356,1153.3 1351.4,1154.9 1346.9,1156.7 1342.3,1158.8 1337.8,1161.2 1333.2,1163.9 1328.7,1166.8 1324.1,1170 1319.6,1173.5 1315,1177.3 1310.5,1181.3 1305.9,1185.6 1301.4,1190.2" fill="#2d37d7" fill-opacity="0.2"/>
<polygon points="1301.4,1190.2 1305.9,1186.3 1310.5,1182.6 1315,1179 1319.6,1175.6 1324.1,1172.3 1328.7,1169.1 1333.2,1166.1 1337.8,1163.2 1342.3,1160.4 1346.9,1157.8 1351.4,1155.3 1356,1152.9 1360.5,1150.7 1365.1,1148.7 1369.6,1146.7 1374.2,1144.9 1378.7,1143.3 1383.3,1141.7 1387.8,1140.3 1392.3,1139.1 1396.9,1138 1401.4,1137 1406,1136.2 1410.5,1135.5 1415.1,1134.9 1419.6,1134.5 1424.2,1134.2 1428.7,1134.1 1433.3,1134 1437.8,1134.2 1442.4,1134.4 1446.9,1134.8 1451.5,1135.4 1456,1136.1 1460.6,1136.9 1465.1,1137.8 1469.7,1138.9 1474.2,1140.1 1478.8,1141.5 1483.3,1143 1483.3,1181.3 1478.8,1180.4 1474.2,1179.6 1469.7,1178.8 1465.1,1178.1 1460.6,1177.4 1456,1176.8 1451.5,1176.3 1446.9,1175.8 1442.4,1175.4 1437.8,1175 1433.3,1174.7 1428.7,1174.4 1424.2,1174.2 1419.6,1174.1 1415.1,1174 1410.5,1174 1406,1174 1401.4,1174.1 1396.9,1174.2 1392.3,1174.4 1387.8,1174.7 1383.3,1175 1378.7,1175.3 1374.2,1175.7 1369.6,1176.2 1365.1,1176.8 1360.5,1177.3 1356,1178 1351.4,1178.7 1346.9,1179.5 1342.3,1180.3 1337.8,1181.2 1333.2,1182.1 1328.7,1183.1 1324.1,1184.1 1319.6,1185.2 1315,1186.4 1310.5,1187.6 1305.9,1188.9 1301.4,1190.2" fill="#f01432" fill-opacity="0.18"/>
<polyline points="1301.4,1190.2 1305.9,1184.6 1310.5,1179.4 1315,1174.4 1319.6,1169.7 1324.1,1165.2 1328.7,1161.1 1333.2,1157.2 1337.8,1153.6 1342.3,1150.3 1346.9,1147.3 1351.4,1144.6 1356,1142.1 1360.5,1140 1365.1,1138.1 1369.6,1136.5 1374.2,1135.2 1378.7,1134.1 1383.3,1133.4 1387.8,1132.9 1392.3,1132.7 1396.9,1132.8 1401.4,1133.2 1406,1133.8 1410.5,1134.8 1415.1,1136 1419.6,1137.5 1424.2,1139.3 1428.7,1141.3 1433.3,1143.7 1437.8,1146.3 1442.4,1149.2 1446.9,1152.4 1451.5,1155.9 1456,1159.7 1460.6,1163.7 1465.1,1168.1 1469.7,1172.7 1474.2,1177.6 1478.8,1182.7 1483.3,1188.2" fill="none" stroke="#2129b5" stroke-width="2.4"/>
<polyline points="1301.4,1190.2 1305.9,1187.6 1310.5,1185 1315,1182.6 1319.6,1180.2 1324.1,1178 1328.7,1175.8 1333.2,1173.8 1337.8,1171.8 1342.3,1170 1346.9,1168.2 1351.4,1166.6 1356,1165.1 1360.5,1163.6 1365.1,1162.3 1369.6,1161 1374.2,1159.9 1378.7,1158.8 1383.3,1157.9 1387.8,1157 1392.3,1156.3 1396.9,1155.7 1401.4,1155.1 1406,1154.7 1410.5,1154.3 1415.1,1154.1 1419.6,1153.9 1424.2,1153.9 1428.7,1153.9 1433.3,1154.1 1437.8,1154.4 1442.4,1154.7 1446.9,1155.2 1451.5,1155.7 1456,1156.4 1460.6,1157.1 1465.1,1158 1469.7,1158.9 1474.2,1160 1478.8,1161.1 1483.3,1162.4" fill="none" stroke="#ae0b3b" stroke-width="2.4"/>
<rect x="1292.5" y="1090.8" width="199.7" height="198.6" fill="none" stroke="#000" stroke-width="2.7"/>
<line x1="1301.4" y1="1290.6" x2="1301.4" y2="1294.9" stroke="#333" stroke-width="1.3"/>
<line x1="1337.8" y1="1290.6" x2="1337.8" y2="1294.9" stroke="#333" stroke-width="1.3"/>
<line x1="1374.2" y1="1290.6" x2="1374.2" y2="1294.9" stroke="#333" stroke-width="1.3"/>
<line x1="1410.5" y1="1290.6" x2="1410.5" y2="1294.9" stroke="#333" stroke-width="1.3"/>
<line x1="1446.9" y1="1290.6" x2="1446.9" y2="1294.9" stroke="#333" stroke-width="1.3"/>
<line x1="1483.3" y1="1290.6" x2="1483.3" y2="1294.9" stroke="#333" stroke-width="1.3"/>
<text x="1301.4" y="1310.4" font-size="17" text-anchor="middle">0</text>
<text x="1483.3" y="1310.4" font-size="17" text-anchor="middle">500</text>
<line x1="1516" y1="1190.2" x2="1704.2" y2="1190.2" stroke="#c8c8c8" stroke-width="1.2"/>
<polygon points="1521.6,1190.2 1526.2,1184.3 1530.7,1178.7 1535.3,1173.4 1539.9,1168.4 1544.4,1163.7 1549,1159.3 1553.6,1155.1 1558.1,1151.2 1562.7,1147.7 1567.2,1144.4 1571.8,1141.4 1576.4,1138.7 1580.9,1136.3 1585.5,1134.1 1590.1,1132.3 1594.6,1130.7 1599.2,1129.5 1603.8,1128.5 1608.3,1127.8 1612.9,1127.4 1617.5,1127.3 1622,1127.5 1626.6,1127.9 1631.2,1128.7 1635.7,1129.7 1640.3,1131 1644.9,1132.7 1649.4,1134.6 1654,1136.8 1658.5,1139.2 1663.1,1142 1667.7,1145.1 1672.2,1148.4 1676.8,1152 1681.4,1156 1685.9,1160.2 1690.5,1164.7 1695.1,1169.5 1699.6,1174.5 1704.2,1179.9 1704.2,1248.5 1699.6,1241 1695.1,1233.9 1690.5,1227 1685.9,1220.4 1681.4,1214.2 1676.8,1208.3 1672.2,1202.6 1667.7,1197.3 1663.1,1192.3 1658.5,1187.6 1654,1183.2 1649.4,1179.1 1644.9,1175.4 1640.3,1171.9 1635.7,1168.7 1631.2,1165.9 1626.6,1163.4 1622,1161.1 1617.5,1159.2 1612.9,1157.6 1608.3,1156.3 1603.8,1155.3 1599.2,1154.6 1594.6,1154.2 1590.1,1154.2 1585.5,1154.4 1580.9,1155 1576.4,1155.8 1571.8,1157 1567.2,1158.5 1562.7,1160.2 1558.1,1162.3 1553.6,1164.7 1549,1167.5 1544.4,1170.5 1539.9,1173.8 1535.3,1177.4 1530.7,1181.4 1526.2,1185.6 1521.6,1190.2" fill="#2d37d7" fill-opacity="0.2"/>
<polygon points="1521.6,1190.2 1526.2,1186.2 1530.7,1182.3 1535.3,1178.6 1539.9,1175 1544.4,1171.6 1549,1168.3 1553.6,1165.2 1558.1,1162.2 1562.7,1159.4 1567.2,1156.7 1571.8,1154.2 1576.4,1151.8 1580.9,1149.5 1585.5,1147.5 1590.1,1145.5 1594.6,1143.7 1599.2,1142.1 1603.8,1140.6 1608.3,1139.2 1612.9,1138 1617.5,1136.9 1622,1136 1626.6,1135.3 1631.2,1134.7 1635.7,1134.2 1640.3,1133.9 1644.9,1133.7 1649.4,1133.7 1654,1133.8 1658.5,1134.1 1663.1,1134.5 1667.7,1135 1672.2,1135.8 1676.8,1136.6 1681.4,1137.6 1685.9,1138.8 1690.5,1140.1 1695.1,1141.6 1699.6,1143.2 1704.2,1144.9 1704.2,1182.6 1699.6,1181.3 1695.1,1180.1 1690.5,1179 1685.9,1177.9 1681.4,1176.9 1676.8,1176 1672.2,1175.2 1667.7,1174.5 1663.1,1173.8 1658.5,1173.2 1654,1172.6 1649.4,1172.2 1644.9,1171.8 1640.3,1171.5 1635.7,1171.3 1631.2,1171.1 1626.6,1171.1 1622,1171.1 1617.5,1171.1 1612.9,1171.3 1608.3,1171.5 1603.8,1171.8 1599.2,1172.2 1594.6,1172.7 1590.1,1173.2 1585.5,1173.8 1580.9,1174.5 1576.4,1175.2 1571.8,1176.1 1567.2,1177 1562.7,1178 1558.1,1179 1553.6,1180.1 1549,1181.4 1544.4,1182.6 1539.9,1184 1535.3,1185.4 1530.7,1187 1526.2,1188.5 1521.6,1190.2" fill="#f01432" fill-opacity="0.18"/>
<polyline points="1521.6,1190.2 1526.2,1185.2 1530.7,1180.4 1535.3,1175.9 1539.9,1171.7 1544.4,1167.8 1549,1164.1 1553.6,1160.8 1558.1,1157.7 1562.7,1154.8 1567.2,1152.3 1571.8,1150 1576.4,1148 1580.9,1146.3 1585.5,1144.9 1590.1,1143.7 1594.6,1142.8 1599.2,1142.2 1603.8,1141.9 1608.3,1141.9 1612.9,1142.1 1617.5,1142.6 1622,1143.4 1626.6,1144.5 1631.2,1145.8 1635.7,1147.4 1640.3,1149.3 1644.9,1151.5 1649.4,1153.9 1654,1156.6 1658.5,1159.6 1663.1,1162.9 1667.7,1166.5 1672.2,1170.3 1676.8,1174.4 1681.4,1178.8 1685.9,1183.5 1690.5,1188.4 1695.1,1193.6 1699.6,1199.1 1704.2,1204.9" fill="none" stroke="#2129b5" stroke-width="2.4"/>
<polyline points="1521.6,1190.2 1526.2,1187.5 1530.7,1184.9 1535.3,1182.4 1539.9,1180 1544.4,1177.7 1549,1175.5 1553.6,1173.4 1558.1,1171.5 1562.7,1169.6 1567.2,1167.8 1571.8,1166.2 1576.4,1164.6 1580.9,1163.2 1585.5,1161.8 1590.1,1160.6 1594.6,1159.4 1599.2,1158.4 1603.8,1157.4 1608.3,1156.6 1612.9,1155.9 1617.5,1155.3 1622,1154.8 1626.6,1154.4 1631.2,1154.1 1635.7,1153.9 1640.3,1153.8 1644.9,1153.8 1649.4,1153.9 1654,1154.1 1658.5,1154.4 1663.1,1154.9 1667.7,1155.4 1672.2,1156 1676.8,1156.8 1681.4,1157.6 1685.9,1158.6 1690.5,1159.6 1695.1,1160.8 1699.6,1162 1704.2,1163.4" fill="none" stroke="#ae0b3b" stroke-width="2.4"/>
<rect x="1513" y="1090.6" width="199.7" height="199" fill="none" stroke="#000" stroke-width="2.7"/>
<line x1="1521.6" y1="1290.8" x2="1521.6" y2="1295.1" stroke="#333" stroke-width="1.3"/>
<line x1="1558.1" y1="1290.8" x2="1558.1" y2="1295.1" stroke="#333" stroke-width="1.3"/>
<line x1="1594.6" y1="1290.8" x2="1594.6" y2="1295.1" stroke="#333" stroke-width="1.3"/>
<line x1="1631.2" y1="1290.8" x2="1631.2" y2="1295.1" stroke="#333" stroke-width="1.3"/>
<line x1="1667.7" y1="1290.8" x2="1667.7" y2="1295.1" stroke="#333" stroke-width="1.3"/>
<line x1="1704.2" y1="1290.8" x2="1704.2" y2="1295.1" stroke="#333" stroke-width="1.3"/>
<text x="1521.6" y="1310.6" font-size="17" text-anchor="middle">0</text>
<text x="1704.2" y="1310.6" font-size="17" text-anchor="middle">500</text>
<line x1="1736.3" y1="1190.2" x2="1924.4" y2="1190.2" stroke="#c8c8c8" stroke-width="1.2"/>
<polygon points="1742.2,1190.2 1746.8,1183.7 1751.3,1177.4 1755.9,1171.4 1760.4,1165.8 1765,1160.4 1769.5,1155.2 1774.1,1150.4 1778.6,1145.8 1783.2,1141.5 1787.8,1137.5 1792.3,1133.8 1796.9,1130.4 1801.4,1127.2 1806,1124.3 1810.5,1121.8 1815.1,1119.4 1819.6,1117.4 1824.2,1115.7 1828.7,1114.2 1833.3,1113 1837.9,1112.1 1842.4,1111.5 1847,1111.1 1851.5,1111.1 1856.1,1111.3 1860.6,1111.8 1865.2,1112.6 1869.7,1113.6 1874.3,1115 1878.9,1116.6 1883.4,1118.5 1888,1120.7 1892.5,1123.1 1897.1,1125.9 1901.6,1128.9 1906.2,1132.2 1910.7,1135.8 1915.3,1139.7 1919.8,1143.9 1924.4,1148.3 1924.4,1188.5 1919.8,1184.9 1915.3,1181.6 1910.7,1178.4 1906.2,1175.4 1901.6,1172.5 1897.1,1169.9 1892.5,1167.5 1888,1165.2 1883.4,1163.1 1878.9,1161.2 1874.3,1159.5 1869.7,1158 1865.2,1156.6 1860.6,1155.5 1856.1,1154.5 1851.5,1153.7 1847,1153.1 1842.4,1152.7 1837.9,1152.4 1833.3,1152.4 1828.7,1152.5 1824.2,1152.9 1819.6,1153.4 1815.1,1154 1810.5,1154.9 1806,1156 1801.4,1157.2 1796.9,1158.7 1792.3,1160.3 1787.8,1162.1 1783.2,1164 1778.6,1166.2 1774.1,1168.6 1769.5,1171.1 1765,1173.8 1760.4,1176.7 1755.9,1179.8 1751.3,1183.1 1746.8,1186.6 1742.2,1190.2" fill="#2d37d7" fill-opacity="0.2"/>
<polygon points="1742.2,1190.2 1746.8,1185.6 1751.3,1181.2 1755.9,1177 1760.4,1173.1 1765,1169.3 1769.5,1165.7 1774.1,1162.4 1778.6,1159.3 1783.2,1156.3 1787.8,1153.6 1792.3,1151.1 1796.9,1148.8 1801.4,1146.7 1806,1144.9 1810.5,1143.2 1815.1,1141.7 1819.6,1140.5 1824.2,1139.4 1828.7,1138.6 1833.3,1138 1837.9,1137.6 1842.4,1137.4 1847,1137.4 1851.5,1137.6 1856.1,1138 1860.6,1138.7 1865.2,1139.5 1869.7,1140.6 1874.3,1141.8 1878.9,1143.3 1883.4,1145 1888,1146.9 1892.5,1149 1897.1,1151.3 1901.6,1153.8 1906.2,1156.6 1910.7,1159.5 1915.3,1162.7 1919.8,1166 1924.4,1169.6 1924.4,1209.1 1919.8,1205.9 1915.3,1202.8 1910.7,1199.8 1906.2,1197 1901.6,1194.3 1897.1,1191.8 1892.5,1189.4 1888,1187.2 1883.4,1185.1 1878.9,1183.1 1874.3,1181.3 1869.7,1179.6 1865.2,1178.1 1860.6,1176.7 1856.1,1175.4 1851.5,1174.3 1847,1173.4 1842.4,1172.5 1837.9,1171.8 1833.3,1171.3 1828.7,1170.9 1824.2,1170.6 1819.6,1170.5 1815.1,1170.5 1810.5,1170.7 1806,1171 1801.4,1171.5 1796.9,1172.1 1792.3,1172.8 1787.8,1173.7 1783.2,1174.7 1778.6,1175.8 1774.1,1177.1 1769.5,1178.6 1765,1180.2 1760.4,1181.9 1755.9,1183.8 1751.3,1185.8 1746.8,1187.9 1742.2,1190.2" fill="#f01432" fill-opacity="0.18"/>
<polyline points="1742.2,1190.2 1746.8,1185 1751.3,1180.1 1755.9,1175.4 1760.4,1170.9 1765,1166.7 1769.5,1162.7 1774.1,1159 1778.6,1155.4 1783.2,1152.2 1787.8,1149.1 1792.3,1146.3 1796.9,1143.8 1801.4,1141.5 1806,1139.4 1810.5,1137.5 1815.1,1135.9 1819.6,1134.6 1824.2,1133.4 1828.7,1132.6 1833.3,1131.9 1837.9,1131.5 1842.4,1131.3 1847,1131.4 1851.5,1131.7 1856.1,1132.2 1860.6,1133 1865.2,1134 1869.7,1135.3 1874.3,1136.8 1878.9,1138.5 1883.4,1140.5 1888,1142.7 1892.5,1145.1 1897.1,1147.8 1901.6,1150.7 1906.2,1153.9 1910.7,1157.3 1915.3,1160.9 1919.8,1164.8 1924.4,1168.9" fill="none" stroke="#2129b5" stroke-width="2.4"/>
<polyline points="1742.2,1190.2 1746.8,1186.8 1751.3,1183.5 1755.9,1180.4 1760.4,1177.5 1765,1174.7 1769.5,1172.1 1774.1,1169.7 1778.6,1167.4 1783.2,1165.3 1787.8,1163.4 1792.3,1161.6 1796.9,1160.1 1801.4,1158.7 1806,1157.4 1810.5,1156.3 1815.1,1155.4 1819.6,1154.7 1824.2,1154.1 1828.7,1153.7 1833.3,1153.5 1837.9,1153.4 1842.4,1153.5 1847,1153.8 1851.5,1154.3 1856.1,1154.9 1860.6,1155.7 1865.2,1156.6 1869.7,1157.7 1874.3,1159 1878.9,1160.5 1883.4,1162.1 1888,1163.9 1892.5,1165.9 1897.1,1168 1901.6,1170.3 1906.2,1172.8 1910.7,1175.5 1915.3,1178.3 1919.8,1181.2 1924.4,1184.4" fill="none" stroke="#ae0b3b" stroke-width="2.4"/>
<rect x="1733.3" y="1090.6" width="199" height="199" fill="none" stroke="#000" stroke-width="2.7"/>
<line x1="1742.2" y1="1290.8" x2="1742.2" y2="1295.1" stroke="#333" stroke-width="1.3"/>
<line x1="1778.6" y1="1290.8" x2="1778.6" y2="1295.1" stroke="#333" stroke-width="1.3"/>
<line x1="1815.1" y1="1290.8" x2="1815.1" y2="1295.1" stroke="#333" stroke-width="1.3"/>
<line x1="1851.5" y1="1290.8" x2="1851.5" y2="1295.1" stroke="#333" stroke-width="1.3"/>
<line x1="1888" y1="1290.8" x2="1888" y2="1295.1" stroke="#333" stroke-width="1.3"/>
<line x1="1924.4" y1="1290.8" x2="1924.4" y2="1295.1" stroke="#333" stroke-width="1.3"/>
<text x="1742.2" y="1310.6" font-size="17" text-anchor="middle">0</text>
<text x="1924.4" y="1310.6" font-size="17" text-anchor="middle">500</text>
<line x1="1956.9" y1="1190.2" x2="2144.4" y2="1190.2" stroke="#c8c8c8" stroke-width="1.2"/>
<polygon points="1962.5,1190.2 1967,1184.8 1971.6,1179.6 1976.1,1174.6 1980.7,1169.9 1985.2,1165.4 1989.8,1161.1 1994.3,1157 1998.9,1153.2 2003.4,1149.5 2008,1146.1 2012.5,1143 2017.1,1140 2021.6,1137.3 2026.2,1134.7 2030.7,1132.4 2035.3,1130.4 2039.8,1128.5 2044.4,1126.9 2048.9,1125.5 2053.4,1124.3 2058,1123.3 2062.5,1122.6 2067.1,1122.1 2071.6,1121.8 2076.2,1121.7 2080.7,1121.9 2085.3,1122.2 2089.8,1122.8 2094.4,1123.6 2098.9,1124.7 2103.5,1125.9 2108,1127.4 2112.6,1129.1 2117.1,1131.1 2121.7,1133.2 2126.2,1135.6 2130.8,1138.2 2135.3,1141 2139.9,1144 2144.4,1147.3 2144.4,1191.9 2139.9,1187.9 2135.3,1184.1 2130.8,1180.6 2126.2,1177.2 2121.7,1174 2117.1,1171.1 2112.6,1168.3 2108,1165.7 2103.5,1163.4 2098.9,1161.2 2094.4,1159.3 2089.8,1157.5 2085.3,1155.9 2080.7,1154.6 2076.2,1153.4 2071.6,1152.5 2067.1,1151.7 2062.5,1151.2 2058,1150.8 2053.4,1150.7 2048.9,1150.8 2044.4,1151 2039.8,1151.5 2035.3,1152.1 2030.7,1153 2026.2,1154.1 2021.6,1155.3 2017.1,1156.8 2012.5,1158.5 2008,1160.4 2003.4,1162.4 1998.9,1164.7 1994.3,1167.2 1989.8,1169.9 1985.2,1172.8 1980.7,1175.8 1976.1,1179.1 1971.6,1182.6 1967,1186.3 1962.5,1190.2" fill="#2d37d7" fill-opacity="0.2"/>
<polygon points="1962.5,1190.2 1967,1188.2 1971.6,1186.3 1976.1,1184.5 1980.7,1182.8 1985.2,1181.2 1989.8,1179.7 1994.3,1178.3 1998.9,1177 2003.4,1175.8 2008,1174.8 2012.5,1173.8 2017.1,1172.9 2021.6,1172.1 2026.2,1171.5 2030.7,1170.9 2035.3,1170.4 2039.8,1170.1 2044.4,1169.8 2048.9,1169.7 2053.4,1169.6 2058,1169.7 2062.5,1169.8 2067.1,1170.1 2071.6,1170.4 2076.2,1170.9 2080.7,1171.5 2085.3,1172.1 2089.8,1172.9 2094.4,1173.8 2098.9,1174.8 2103.5,1175.8 2108,1177 2112.6,1178.3 2117.1,1179.7 2121.7,1181.2 2126.2,1182.8 2130.8,1184.5 2135.3,1186.3 2139.9,1188.2 2144.4,1190.2 2144.4,1236.5 2139.9,1233.5 2135.3,1230.6 2130.8,1227.7 2126.2,1225 2121.7,1222.4 2117.1,1219.8 2112.6,1217.4 2108,1215 2103.5,1212.8 2098.9,1210.6 2094.4,1208.6 2089.8,1206.6 2085.3,1204.7 2080.7,1203 2076.2,1201.3 2071.6,1199.7 2067.1,1198.2 2062.5,1196.8 2058,1195.5 2053.4,1194.3 2048.9,1193.2 2044.4,1192.2 2039.8,1191.3 2035.3,1190.4 2030.7,1189.7 2026.2,1189.1 2021.6,1188.5 2017.1,1188.1 2012.5,1187.7 2008,1187.5 2003.4,1187.3 1998.9,1187.3 1994.3,1187.3 1989.8,1187.4 1985.2,1187.7 1980.7,1188 1976.1,1188.4 1971.6,1188.9 1967,1189.5 1962.5,1190.2" fill="#f01432" fill-opacity="0.18"/>
<polyline points="1962.5,1190.2 1967,1185.5 1971.6,1181 1976.1,1176.8 1980.7,1172.8 1985.2,1168.9 1989.8,1165.3 1994.3,1162 1998.9,1158.8 2003.4,1155.8 2008,1153.1 2012.5,1150.6 2017.1,1148.3 2021.6,1146.2 2026.2,1144.3 2030.7,1142.7 2035.3,1141.3 2039.8,1140 2044.4,1139 2048.9,1138.3 2053.4,1137.7 2058,1137.4 2062.5,1137.2 2067.1,1137.3 2071.6,1137.6 2076.2,1138.1 2080.7,1138.9 2085.3,1139.8 2089.8,1141 2094.4,1142.4 2098.9,1144 2103.5,1145.8 2108,1147.9 2112.6,1150.1 2117.1,1152.6 2121.7,1155.3 2126.2,1158.2 2130.8,1161.3 2135.3,1164.7 2139.9,1168.2 2144.4,1172" fill="none" stroke="#2129b5" stroke-width="2.4"/>
<polyline points="1962.5,1190.2 1967,1188.9 1971.6,1187.7 1976.1,1186.5 1980.7,1185.5 1985.2,1184.6 1989.8,1183.7 1994.3,1183 1998.9,1182.3 2003.4,1181.8 2008,1181.4 2012.5,1181 2017.1,1180.8 2021.6,1180.6 2026.2,1180.6 2030.7,1180.6 2035.3,1180.8 2039.8,1181 2044.4,1181.3 2048.9,1181.8 2053.4,1182.3 2058,1182.9 2062.5,1183.7 2067.1,1184.5 2071.6,1185.4 2076.2,1186.4 2080.7,1187.6 2085.3,1188.8 2089.8,1190.1 2094.4,1191.5 2098.9,1193 2103.5,1194.6 2108,1196.3 2112.6,1198.1 2117.1,1200 2121.7,1202 2126.2,1204.1 2130.8,1206.3 2135.3,1208.6 2139.9,1211 2144.4,1213.5" fill="none" stroke="#ae0b3b" stroke-width="2.4"/>
<rect x="1953.9" y="1090.6" width="199" height="199" fill="none" stroke="#000" stroke-width="2.7"/>
<line x1="1962.5" y1="1290.8" x2="1962.5" y2="1295.1" stroke="#333" stroke-width="1.3"/>
<line x1="1998.9" y1="1290.8" x2="1998.9" y2="1295.1" stroke="#333" stroke-width="1.3"/>
<line x1="2035.3" y1="1290.8" x2="2035.3" y2="1295.1" stroke="#333" stroke-width="1.3"/>
<line x1="2071.6" y1="1290.8" x2="2071.6" y2="1295.1" stroke="#333" stroke-width="1.3"/>
<line x1="2108" y1="1290.8" x2="2108" y2="1295.1" stroke="#333" stroke-width="1.3"/>
<line x1="2144.4" y1="1290.8" x2="2144.4" y2="1295.1" stroke="#333" stroke-width="1.3"/>
<text x="1962.5" y="1310.6" font-size="17" text-anchor="middle">0</text>
<text x="2144.4" y="1310.6" font-size="17" text-anchor="middle">500</text>
<line x1="1072.8" y1="1097.6" x2="1077.9" y2="1097.6" stroke="#444" stroke-width="1.3"/>
<text x="1065" y="1102.9" font-size="17" text-anchor="end">.4</text>
<line x1="1072.8" y1="1146.1" x2="1077.9" y2="1146.1" stroke="#444" stroke-width="1.3"/>
<text x="1065" y="1151.4" font-size="17" text-anchor="end">.2</text>
<line x1="1072.8" y1="1190.3" x2="1077.9" y2="1190.3" stroke="#444" stroke-width="1.3"/>
<text x="1065" y="1195.6" font-size="17" text-anchor="end">0</text>
<line x1="1072.8" y1="1234.6" x2="1077.9" y2="1234.6" stroke="#444" stroke-width="1.3"/>
<text x="1065" y="1239.9" font-size="17" text-anchor="end">-.2</text>
<line x1="1072.8" y1="1278.7" x2="1077.9" y2="1278.7" stroke="#444" stroke-width="1.3"/>
<text x="1065" y="1284" font-size="17" text-anchor="end">-.4</text>
<text x="0" y="0" font-size="26.2" text-anchor="middle" transform="translate(1025.8,1184.5) rotate(-90)">log(yield)</text>
<text x="1957.4" y="1233" font-size="23.7" fill="#ae0b3b">high irrigation</text>
<text x="1957.4" y="1275.2" font-size="23.7" fill="#2129b5">low&#160;&#160;irrigation</text>
<line x1="2014.7" y1="1211.4" x2="2052.4" y2="1183.2" stroke="#000" stroke-width="1"/>
<line x1="2098.7" y1="1258" x2="2138.2" y2="1166.1" stroke="#000" stroke-width="1"/>
<line x1="2144.4" y1="1145.5" x2="2144.4" y2="1150.6" stroke="#000" stroke-width="1"/>
<text x="1503.8" y="1338.7" font-size="26.6">Precipitation (mm)</text>
<path d="M1073.3,1587.5 L1073.3,1597.8 L2148.4,1597.8 L2148.4,1587.5" fill="none" stroke="#000" stroke-width="1.9"/>
<line x1="1091.4" y1="1597.8" x2="1091.4" y2="1914.3" stroke="#000" stroke-width="1.9"/>
<path d="M1073.1,1925.5 L1073.1,1914.3 L1235.4,1914.3 L1235.4,1925.5" fill="none" stroke="#000" stroke-width="1.9"/>
<text x="1127.8" y="1716.5" font-size="43.8" font-weight="bold">C) Representation of models for other crops</text>
<text x="1130.3" y="1756.5" font-size="30.6" font-weight="bold" font-style="italic">Rows and columns represent same weather interactions as panel B</text>
<rect x="1129.5" y="1784.1" width="35" height="34.6" fill="#fff" stroke="#000" stroke-width="4"/>
<rect x="1128.9" y="1830.8" width="35.5" height="34.8" fill="#d9d9d9"/>
<text x="1179.4" y="1809.2" font-size="26.2">Weather variable interacted with mediating varibale included in final model</text>
<text x="1178.9" y="1855.5" font-size="26.2">Weather variable interacted with mediating variable not included</text>
<text x="1057" y="1995.4" font-size="26.5" text-anchor="end">Degree days</text>
<text x="1057" y="2035.7" font-size="26.5" text-anchor="end">Min. temperature</text>
<text x="1057" y="2074.1" font-size="26.5" text-anchor="end">Total precipitation</text>
<text x="1057" y="2111.6" font-size="26.5" text-anchor="end">Vapor pressure deficit</text>
<text x="1152.6" y="1954.3" font-size="26.1" font-weight="bold" text-anchor="middle">Maize</text>
<rect x="1074.9" y="2011.1" width="28.8" height="33.9" fill="#d9d9d9"/>
<rect x="1107.3" y="2011.1" width="28.8" height="33.9" fill="#d9d9d9"/>
<rect x="1139.6" y="2011.1" width="28.8" height="33.9" fill="#d9d9d9"/>
<rect x="1172" y="2011.1" width="28.8" height="33.9" fill="#d9d9d9"/>
<rect x="1204.3" y="2011.1" width="28.8" height="33.9" fill="#d9d9d9"/>
<rect x="1074.9" y="2086.9" width="28.8" height="33.9" fill="#d9d9d9"/>
<rect x="1107.3" y="2086.9" width="28.8" height="33.9" fill="#d9d9d9"/>
<rect x="1139.6" y="2086.9" width="28.8" height="33.9" fill="#d9d9d9"/>
<rect x="1172" y="2086.9" width="28.8" height="33.9" fill="#d9d9d9"/>
<rect x="1204.3" y="2086.9" width="28.8" height="33.9" fill="#d9d9d9"/>
<rect x="1072.7" y="1970.8" width="33.2" height="38.7" fill="#000"/>
<rect x="1105.1" y="1970.8" width="33.2" height="38.7" fill="#000"/>
<rect x="1137.4" y="1970.8" width="33.2" height="38.7" fill="#000"/>
<rect x="1169.8" y="1970.8" width="33.2" height="38.7" fill="#000"/>
<rect x="1202.1" y="1970.8" width="33.2" height="38.7" fill="#000"/>
<rect x="1072.7" y="2046.6" width="33.2" height="38.7" fill="#000"/>
<rect x="1105.1" y="2046.6" width="33.2" height="38.7" fill="#000"/>
<rect x="1137.4" y="2046.6" width="33.2" height="38.7" fill="#000"/>
<rect x="1169.8" y="2046.6" width="33.2" height="38.7" fill="#000"/>
<rect x="1202.1" y="2046.6" width="33.2" height="38.7" fill="#000"/>
<rect x="1077" y="1975.1" width="24.6" height="30.1" fill="#fff"/>
<rect x="1109.4" y="1975.1" width="24.6" height="30.1" fill="#fff"/>
<rect x="1141.7" y="1975.1" width="24.6" height="30.1" fill="#fff"/>
<rect x="1174.1" y="1975.1" width="24.6" height="30.1" fill="#fff"/>
<rect x="1206.4" y="1975.1" width="24.6" height="30.1" fill="#fff"/>
<rect x="1077" y="2050.9" width="24.6" height="30.1" fill="#fff"/>
<rect x="1109.4" y="2050.9" width="24.6" height="30.1" fill="#fff"/>
<rect x="1141.7" y="2050.9" width="24.6" height="30.1" fill="#fff"/>
<rect x="1174.1" y="2050.9" width="24.6" height="30.1" fill="#fff"/>
<rect x="1206.4" y="2050.9" width="24.6" height="30.1" fill="#fff"/>
<text x="1342.5" y="1954.3" font-size="26.1" font-weight="bold" text-anchor="middle">Soy</text>
<rect x="1264.1" y="2009.9" width="28.8" height="33.9" fill="#d9d9d9"/>
<rect x="1296.5" y="2009.9" width="28.8" height="33.9" fill="#d9d9d9"/>
<rect x="1328.8" y="2009.9" width="28.8" height="33.9" fill="#d9d9d9"/>
<rect x="1361.2" y="2009.9" width="28.8" height="33.9" fill="#d9d9d9"/>
<rect x="1393.5" y="2009.9" width="28.8" height="33.9" fill="#d9d9d9"/>
<rect x="1264.1" y="2085.7" width="28.8" height="33.9" fill="#d9d9d9"/>
<rect x="1296.5" y="2085.7" width="28.8" height="33.9" fill="#d9d9d9"/>
<rect x="1328.8" y="2085.7" width="28.8" height="33.9" fill="#d9d9d9"/>
<rect x="1361.2" y="2085.7" width="28.8" height="33.9" fill="#d9d9d9"/>
<rect x="1393.5" y="2085.7" width="28.8" height="33.9" fill="#d9d9d9"/>
<rect x="1261.9" y="1969.6" width="33.2" height="38.7" fill="#000"/>
<rect x="1294.3" y="1969.6" width="33.2" height="38.7" fill="#000"/>
<rect x="1326.6" y="1969.6" width="33.2" height="38.7" fill="#000"/>
<rect x="1359" y="1969.6" width="33.2" height="38.7" fill="#000"/>
<rect x="1391.3" y="1969.6" width="33.2" height="38.7" fill="#000"/>
<rect x="1261.9" y="2045.4" width="33.2" height="38.7" fill="#000"/>
<rect x="1294.3" y="2045.4" width="33.2" height="38.7" fill="#000"/>
<rect x="1326.6" y="2045.4" width="33.2" height="38.7" fill="#000"/>
<rect x="1359" y="2045.4" width="33.2" height="38.7" fill="#000"/>
<rect x="1391.3" y="2045.4" width="33.2" height="38.7" fill="#000"/>
<rect x="1266.2" y="1973.9" width="24.6" height="30.1" fill="#fff"/>
<rect x="1298.6" y="1973.9" width="24.6" height="30.1" fill="#fff"/>
<rect x="1330.9" y="1973.9" width="24.6" height="30.1" fill="#fff"/>
<rect x="1363.3" y="1973.9" width="24.6" height="30.1" fill="#fff"/>
<rect x="1395.6" y="1973.9" width="24.6" height="30.1" fill="#fff"/>
<rect x="1266.2" y="2049.7" width="24.6" height="30.1" fill="#fff"/>
<rect x="1298.6" y="2049.7" width="24.6" height="30.1" fill="#fff"/>
<rect x="1330.9" y="2049.7" width="24.6" height="30.1" fill="#fff"/>
<rect x="1363.3" y="2049.7" width="24.6" height="30.1" fill="#fff"/>
<rect x="1395.6" y="2049.7" width="24.6" height="30.1" fill="#fff"/>
<text x="1530.5" y="1954.3" font-size="26.1" font-weight="bold" text-anchor="middle">Rice</text>
<rect x="1517.3" y="1970.4" width="28.8" height="33.9" fill="#d9d9d9"/>
<rect x="1517.3" y="2008.3" width="28.8" height="33.9" fill="#d9d9d9"/>
<rect x="1517.3" y="2046.2" width="28.8" height="33.9" fill="#d9d9d9"/>
<rect x="1452.6" y="2084.1" width="28.8" height="33.9" fill="#d9d9d9"/>
<rect x="1485" y="2084.1" width="28.8" height="33.9" fill="#d9d9d9"/>
<rect x="1517.3" y="2084.1" width="28.8" height="33.9" fill="#d9d9d9"/>
<rect x="1549.7" y="2084.1" width="28.8" height="33.9" fill="#d9d9d9"/>
<rect x="1582" y="2084.1" width="28.8" height="33.9" fill="#d9d9d9"/>
<rect x="1450.4" y="1968" width="33.2" height="38.7" fill="#000"/>
<rect x="1482.8" y="1968" width="33.2" height="38.7" fill="#000"/>
<rect x="1547.5" y="1968" width="33.2" height="38.7" fill="#000"/>
<rect x="1579.8" y="1968" width="33.2" height="38.7" fill="#000"/>
<rect x="1450.4" y="2005.9" width="33.2" height="38.7" fill="#000"/>
<rect x="1482.8" y="2005.9" width="33.2" height="38.7" fill="#000"/>
<rect x="1547.5" y="2005.9" width="33.2" height="38.7" fill="#000"/>
<rect x="1579.8" y="2005.9" width="33.2" height="38.7" fill="#000"/>
<rect x="1450.4" y="2043.8" width="33.2" height="38.7" fill="#000"/>
<rect x="1482.8" y="2043.8" width="33.2" height="38.7" fill="#000"/>
<rect x="1547.5" y="2043.8" width="33.2" height="38.7" fill="#000"/>
<rect x="1579.8" y="2043.8" width="33.2" height="38.7" fill="#000"/>
<rect x="1454.7" y="1972.3" width="24.6" height="30.1" fill="#fff"/>
<rect x="1487.1" y="1972.3" width="24.6" height="30.1" fill="#fff"/>
<rect x="1551.8" y="1972.3" width="24.6" height="30.1" fill="#fff"/>
<rect x="1584.1" y="1972.3" width="24.6" height="30.1" fill="#fff"/>
<rect x="1454.7" y="2010.2" width="24.6" height="30.1" fill="#fff"/>
<rect x="1487.1" y="2010.2" width="24.6" height="30.1" fill="#fff"/>
<rect x="1551.8" y="2010.2" width="24.6" height="30.1" fill="#fff"/>
<rect x="1584.1" y="2010.2" width="24.6" height="30.1" fill="#fff"/>
<rect x="1454.7" y="2048.1" width="24.6" height="30.1" fill="#fff"/>
<rect x="1487.1" y="2048.1" width="24.6" height="30.1" fill="#fff"/>
<rect x="1551.8" y="2048.1" width="24.6" height="30.1" fill="#fff"/>
<rect x="1584.1" y="2048.1" width="24.6" height="30.1" fill="#fff"/>
<text x="1721.4" y="1954.3" font-size="26.1" font-weight="bold" text-anchor="middle">Sorghum</text>
<rect x="1704.7" y="1972.5" width="28.8" height="33.9" fill="#d9d9d9"/>
<rect x="1640" y="2010.4" width="28.8" height="33.9" fill="#d9d9d9"/>
<rect x="1672.4" y="2010.4" width="28.8" height="33.9" fill="#d9d9d9"/>
<rect x="1704.7" y="2010.4" width="28.8" height="33.9" fill="#d9d9d9"/>
<rect x="1737.1" y="2010.4" width="28.8" height="33.9" fill="#d9d9d9"/>
<rect x="1769.4" y="2010.4" width="28.8" height="33.9" fill="#d9d9d9"/>
<rect x="1704.7" y="2048.3" width="28.8" height="33.9" fill="#d9d9d9"/>
<rect x="1640" y="2086.2" width="28.8" height="33.9" fill="#d9d9d9"/>
<rect x="1672.4" y="2086.2" width="28.8" height="33.9" fill="#d9d9d9"/>
<rect x="1704.7" y="2086.2" width="28.8" height="33.9" fill="#d9d9d9"/>
<rect x="1737.1" y="2086.2" width="28.8" height="33.9" fill="#d9d9d9"/>
<rect x="1769.4" y="2086.2" width="28.8" height="33.9" fill="#d9d9d9"/>
<rect x="1637.8" y="1970.1" width="33.2" height="38.7" fill="#000"/>
<rect x="1670.2" y="1970.1" width="33.2" height="38.7" fill="#000"/>
<rect x="1734.9" y="1970.1" width="33.2" height="38.7" fill="#000"/>
<rect x="1767.2" y="1970.1" width="33.2" height="38.7" fill="#000"/>
<rect x="1637.8" y="2045.9" width="33.2" height="38.7" fill="#000"/>
<rect x="1670.2" y="2045.9" width="33.2" height="38.7" fill="#000"/>
<rect x="1734.9" y="2045.9" width="33.2" height="38.7" fill="#000"/>
<rect x="1767.2" y="2045.9" width="33.2" height="38.7" fill="#000"/>
<rect x="1642.1" y="1974.4" width="24.6" height="30.1" fill="#fff"/>
<rect x="1674.5" y="1974.4" width="24.6" height="30.1" fill="#fff"/>
<rect x="1739.2" y="1974.4" width="24.6" height="30.1" fill="#fff"/>
<rect x="1771.5" y="1974.4" width="24.6" height="30.1" fill="#fff"/>
<rect x="1642.1" y="2050.2" width="24.6" height="30.1" fill="#fff"/>
<rect x="1674.5" y="2050.2" width="24.6" height="30.1" fill="#fff"/>
<rect x="1739.2" y="2050.2" width="24.6" height="30.1" fill="#fff"/>
<rect x="1771.5" y="2050.2" width="24.6" height="30.1" fill="#fff"/>
<text x="1901.5" y="1954.3" font-size="26.1" font-weight="bold" text-anchor="middle">Cassava</text>
<rect x="1887.9" y="1972.5" width="28.8" height="33.9" fill="#d9d9d9"/>
<rect x="1952.6" y="1972.5" width="28.8" height="33.9" fill="#d9d9d9"/>
<rect x="1823.2" y="2010.4" width="28.8" height="33.9" fill="#d9d9d9"/>
<rect x="1855.6" y="2010.4" width="28.8" height="33.9" fill="#d9d9d9"/>
<rect x="1887.9" y="2010.4" width="28.8" height="33.9" fill="#d9d9d9"/>
<rect x="1920.3" y="2010.4" width="28.8" height="33.9" fill="#d9d9d9"/>
<rect x="1952.6" y="2010.4" width="28.8" height="33.9" fill="#d9d9d9"/>
<rect x="1887.9" y="2048.3" width="28.8" height="33.9" fill="#d9d9d9"/>
<rect x="1952.6" y="2048.3" width="28.8" height="33.9" fill="#d9d9d9"/>
<rect x="1823.2" y="2086.2" width="28.8" height="33.9" fill="#d9d9d9"/>
<rect x="1855.6" y="2086.2" width="28.8" height="33.9" fill="#d9d9d9"/>
<rect x="1887.9" y="2086.2" width="28.8" height="33.9" fill="#d9d9d9"/>
<rect x="1920.3" y="2086.2" width="28.8" height="33.9" fill="#d9d9d9"/>
<rect x="1952.6" y="2086.2" width="28.8" height="33.9" fill="#d9d9d9"/>
<rect x="1821" y="1970.1" width="33.2" height="38.7" fill="#000"/>
<rect x="1853.4" y="1970.1" width="33.2" height="38.7" fill="#000"/>
<rect x="1918.1" y="1970.1" width="33.2" height="38.7" fill="#000"/>
<rect x="1821" y="2045.9" width="33.2" height="38.7" fill="#000"/>
<rect x="1853.4" y="2045.9" width="33.2" height="38.7" fill="#000"/>
<rect x="1918.1" y="2045.9" width="33.2" height="38.7" fill="#000"/>
<rect x="1825.3" y="1974.4" width="24.6" height="30.1" fill="#fff"/>
<rect x="1857.7" y="1974.4" width="24.6" height="30.1" fill="#fff"/>
<rect x="1922.4" y="1974.4" width="24.6" height="30.1" fill="#fff"/>
<rect x="1825.3" y="2050.2" width="24.6" height="30.1" fill="#fff"/>
<rect x="1857.7" y="2050.2" width="24.6" height="30.1" fill="#fff"/>
<rect x="1922.4" y="2050.2" width="24.6" height="30.1" fill="#fff"/>
<text x="2082.7" y="1954.3" font-size="26.1" font-weight="bold" text-anchor="middle">Wheat</text>
<rect x="2006.5" y="2088.4" width="28.8" height="33.9" fill="#d9d9d9"/>
<rect x="2038.9" y="2088.4" width="28.8" height="33.9" fill="#d9d9d9"/>
<rect x="2071.2" y="2088.4" width="28.8" height="33.9" fill="#d9d9d9"/>
<rect x="2103.6" y="2088.4" width="28.8" height="33.9" fill="#d9d9d9"/>
<rect x="2135.9" y="2088.4" width="28.8" height="33.9" fill="#d9d9d9"/>
<rect x="2004.3" y="1972.3" width="33.2" height="38.7" fill="#000"/>
<rect x="2036.7" y="1972.3" width="33.2" height="38.7" fill="#000"/>
<rect x="2069" y="1972.3" width="33.2" height="38.7" fill="#000"/>
<rect x="2101.4" y="1972.3" width="33.2" height="38.7" fill="#000"/>
<rect x="2133.7" y="1972.3" width="33.2" height="38.7" fill="#000"/>
<rect x="2004.3" y="2010.2" width="33.2" height="38.7" fill="#000"/>
<rect x="2036.7" y="2010.2" width="33.2" height="38.7" fill="#000"/>
<rect x="2069" y="2010.2" width="33.2" height="38.7" fill="#000"/>
<rect x="2101.4" y="2010.2" width="33.2" height="38.7" fill="#000"/>
<rect x="2133.7" y="2010.2" width="33.2" height="38.7" fill="#000"/>
<rect x="2004.3" y="2048.1" width="33.2" height="38.7" fill="#000"/>
<rect x="2036.7" y="2048.1" width="33.2" height="38.7" fill="#000"/>
<rect x="2069" y="2048.1" width="33.2" height="38.7" fill="#000"/>
<rect x="2101.4" y="2048.1" width="33.2" height="38.7" fill="#000"/>
<rect x="2133.7" y="2048.1" width="33.2" height="38.7" fill="#000"/>
<rect x="2008.6" y="1976.6" width="24.6" height="30.1" fill="#fff"/>
<rect x="2041" y="1976.6" width="24.6" height="30.1" fill="#fff"/>
<rect x="2073.3" y="1976.6" width="24.6" height="30.1" fill="#fff"/>
<rect x="2105.7" y="1976.6" width="24.6" height="30.1" fill="#fff"/>
<rect x="2138" y="1976.6" width="24.6" height="30.1" fill="#fff"/>
<rect x="2008.6" y="2014.5" width="24.6" height="30.1" fill="#fff"/>
<rect x="2041" y="2014.5" width="24.6" height="30.1" fill="#fff"/>
<rect x="2073.3" y="2014.5" width="24.6" height="30.1" fill="#fff"/>
<rect x="2105.7" y="2014.5" width="24.6" height="30.1" fill="#fff"/>
<rect x="2138" y="2014.5" width="24.6" height="30.1" fill="#fff"/>
<rect x="2008.6" y="2052.4" width="24.6" height="30.1" fill="#fff"/>
<rect x="2041" y="2052.4" width="24.6" height="30.1" fill="#fff"/>
<rect x="2073.3" y="2052.4" width="24.6" height="30.1" fill="#fff"/>
<rect x="2105.7" y="2052.4" width="24.6" height="30.1" fill="#fff"/>
<rect x="2138" y="2052.4" width="24.6" height="30.1" fill="#fff"/>
</svg>
</body></html>
